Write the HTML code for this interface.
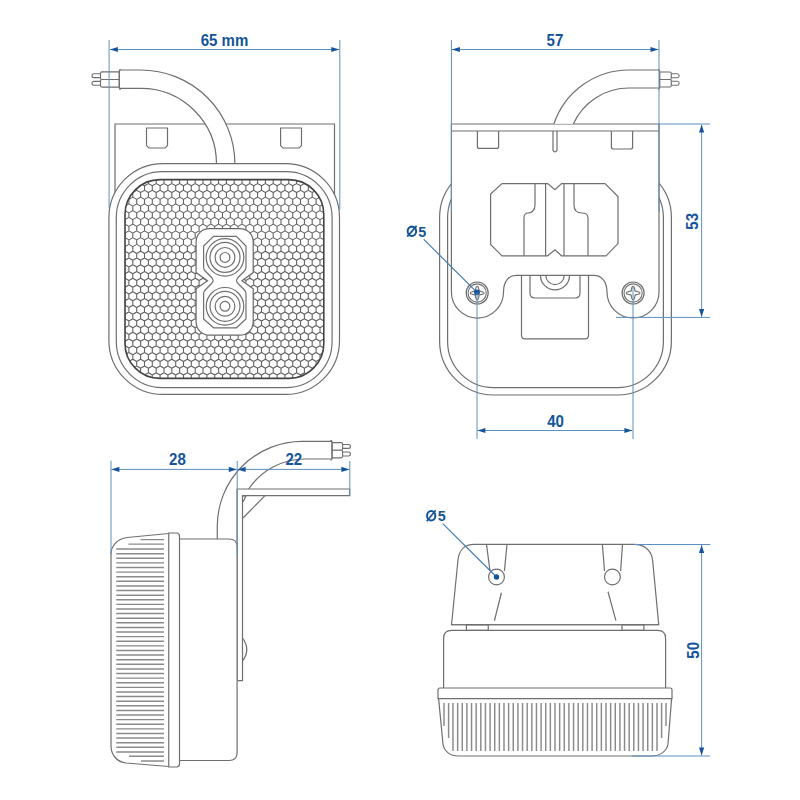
<!DOCTYPE html>
<html><head><meta charset="utf-8"><style>
html,body{margin:0;padding:0;background:#fff;width:800px;height:800px;overflow:hidden;font-family:"Liberation Sans",sans-serif;}
svg{display:block;}
</style></head><body>
<svg width="800" height="800" viewBox="0 0 800 800">
<defs>
<clipPath id="lensclip"><rect x="125" y="179.6" width="198.8" height="198.8" rx="35"/></clipPath>
</defs>
<rect width="800" height="800" fill="#fff"/>
<g fill="none" stroke="#6f6f6f" stroke-width="1.20">
<path d="M115,205 V124 H334.5 V205" fill="#fff"/>
<path d="M146.5,128 V145.6 L148.9,148 H165.1 L167.5,145.6 V128 Z"/>
<path d="M280.6,128 V145.6 L283,148 H299.1 L301.5,145.6 V128 Z"/>
<path d="M119.5,70 H140.9 A94,94 0 0 1 234.9,164 V166 H216.5 V164 A75.6,75.6 0 0 0 140.9,88.4 H119.5 Z" fill="#fff" stroke="none"/>
<path d="M119.5,70 H140.9 A94,94 0 0 1 234.9,164 V166"/>
<path d="M119.5,88.4 H140.9 A75.6,75.6 0 0 1 216.5,164 V166"/>
</g>
<path d="M100.50,73.75 H93.95 A1.95,1.95 0 0 0 93.95,77.65 H100.50" fill="#fff" stroke="#6f6f6f" stroke-width="1.1"/>
<path d="M119.30,71.90 H102.00 Q100.50,71.90 100.50,73.40 V78.00 Q100.50,79.50 102.00,79.50 H119.30 Z" fill="#fff" stroke="#6f6f6f" stroke-width="1.15"/>
<path d="M100.50,81.35 H93.95 A1.95,1.95 0 0 0 93.95,85.25 H100.50" fill="#fff" stroke="#6f6f6f" stroke-width="1.1"/>
<path d="M119.30,79.50 H102.00 Q100.50,79.50 100.50,81.00 V85.60 Q100.50,87.10 102.00,87.10 H119.30 Z" fill="#fff" stroke="#6f6f6f" stroke-width="1.15"/>
<path d="M120.80,69.60 Q119.30,69.60 119.30,71.10 V87.90 Q119.30,89.40 120.80,89.40" fill="none" stroke="#6f6f6f" stroke-width="1.2"/>
<g fill="none" stroke="#6f6f6f" stroke-width="1.20">
<rect x="108.9" y="163.6" width="230.6" height="230.8" rx="54" fill="#fff"/>
<rect x="116.3" y="171.6" width="215.8" height="216" rx="46"/>
<path d="M113.30,172.34 L117.20,170.09 L121.10,172.34 M113.30,172.34 V176.84 M121.10,172.34 L125.00,170.09 L128.90,172.34 M121.10,172.34 V176.84 M128.90,172.34 L132.80,170.09 L136.70,172.34 M128.90,172.34 V176.84 M136.70,172.34 L140.60,170.09 L144.50,172.34 M136.70,172.34 V176.84 M144.50,172.34 L148.40,170.09 L152.30,172.34 M144.50,172.34 V176.84 M152.30,172.34 L156.20,170.09 L160.10,172.34 M152.30,172.34 V176.84 M160.10,172.34 L164.00,170.09 L167.90,172.34 M160.10,172.34 V176.84 M167.90,172.34 L171.80,170.09 L175.70,172.34 M167.90,172.34 V176.84 M175.70,172.34 L179.60,170.09 L183.50,172.34 M175.70,172.34 V176.84 M183.50,172.34 L187.40,170.09 L191.30,172.34 M183.50,172.34 V176.84 M191.30,172.34 L195.20,170.09 L199.10,172.34 M191.30,172.34 V176.84 M199.10,172.34 L203.00,170.09 L206.90,172.34 M199.10,172.34 V176.84 M206.90,172.34 L210.80,170.09 L214.70,172.34 M206.90,172.34 V176.84 M214.70,172.34 L218.60,170.09 L222.50,172.34 M214.70,172.34 V176.84 M222.50,172.34 L226.40,170.09 L230.30,172.34 M222.50,172.34 V176.84 M230.30,172.34 L234.20,170.09 L238.10,172.34 M230.30,172.34 V176.84 M238.10,172.34 L242.00,170.09 L245.90,172.34 M238.10,172.34 V176.84 M245.90,172.34 L249.80,170.09 L253.70,172.34 M245.90,172.34 V176.84 M253.70,172.34 L257.60,170.09 L261.50,172.34 M253.70,172.34 V176.84 M261.50,172.34 L265.40,170.09 L269.30,172.34 M261.50,172.34 V176.84 M269.30,172.34 L273.20,170.09 L277.10,172.34 M269.30,172.34 V176.84 M277.10,172.34 L281.00,170.09 L284.90,172.34 M277.10,172.34 V176.84 M284.90,172.34 L288.80,170.09 L292.70,172.34 M284.90,172.34 V176.84 M292.70,172.34 L296.60,170.09 L300.50,172.34 M292.70,172.34 V176.84 M300.50,172.34 L304.40,170.09 L308.30,172.34 M300.50,172.34 V176.84 M308.30,172.34 L312.20,170.09 L316.10,172.34 M308.30,172.34 V176.84 M316.10,172.34 L320.00,170.09 L323.90,172.34 M316.10,172.34 V176.84 M323.90,172.34 L327.80,170.09 L331.70,172.34 M323.90,172.34 V176.84 M117.20,179.09 L121.10,176.84 L125.00,179.09 M117.20,179.09 V183.60 M125.00,179.09 L128.90,176.84 L132.80,179.09 M125.00,179.09 V183.60 M132.80,179.09 L136.70,176.84 L140.60,179.09 M132.80,179.09 V183.60 M140.60,179.09 L144.50,176.84 L148.40,179.09 M140.60,179.09 V183.60 M148.40,179.09 L152.30,176.84 L156.20,179.09 M148.40,179.09 V183.60 M156.20,179.09 L160.10,176.84 L164.00,179.09 M156.20,179.09 V183.60 M164.00,179.09 L167.90,176.84 L171.80,179.09 M164.00,179.09 V183.60 M171.80,179.09 L175.70,176.84 L179.60,179.09 M171.80,179.09 V183.60 M179.60,179.09 L183.50,176.84 L187.40,179.09 M179.60,179.09 V183.60 M187.40,179.09 L191.30,176.84 L195.20,179.09 M187.40,179.09 V183.60 M195.20,179.09 L199.10,176.84 L203.00,179.09 M195.20,179.09 V183.60 M203.00,179.09 L206.90,176.84 L210.80,179.09 M203.00,179.09 V183.60 M210.80,179.09 L214.70,176.84 L218.60,179.09 M210.80,179.09 V183.60 M218.60,179.09 L222.50,176.84 L226.40,179.09 M218.60,179.09 V183.60 M226.40,179.09 L230.30,176.84 L234.20,179.09 M226.40,179.09 V183.60 M234.20,179.09 L238.10,176.84 L242.00,179.09 M234.20,179.09 V183.60 M242.00,179.09 L245.90,176.84 L249.80,179.09 M242.00,179.09 V183.60 M249.80,179.09 L253.70,176.84 L257.60,179.09 M249.80,179.09 V183.60 M257.60,179.09 L261.50,176.84 L265.40,179.09 M257.60,179.09 V183.60 M265.40,179.09 L269.30,176.84 L273.20,179.09 M265.40,179.09 V183.60 M273.20,179.09 L277.10,176.84 L281.00,179.09 M273.20,179.09 V183.60 M281.00,179.09 L284.90,176.84 L288.80,179.09 M281.00,179.09 V183.60 M288.80,179.09 L292.70,176.84 L296.60,179.09 M288.80,179.09 V183.60 M296.60,179.09 L300.50,176.84 L304.40,179.09 M296.60,179.09 V183.60 M304.40,179.09 L308.30,176.84 L312.20,179.09 M304.40,179.09 V183.60 M312.20,179.09 L316.10,176.84 L320.00,179.09 M312.20,179.09 V183.60 M320.00,179.09 L323.90,176.84 L327.80,179.09 M320.00,179.09 V183.60 M327.80,179.09 L331.70,176.84 L335.60,179.09 M327.80,179.09 V183.60 M113.30,185.85 L117.20,183.60 L121.10,185.85 M113.30,185.85 V190.35 M121.10,185.85 L125.00,183.60 L128.90,185.85 M121.10,185.85 V190.35 M128.90,185.85 L132.80,183.60 L136.70,185.85 M128.90,185.85 V190.35 M136.70,185.85 L140.60,183.60 L144.50,185.85 M136.70,185.85 V190.35 M144.50,185.85 L148.40,183.60 L152.30,185.85 M144.50,185.85 V190.35 M152.30,185.85 L156.20,183.60 L160.10,185.85 M152.30,185.85 V190.35 M160.10,185.85 L164.00,183.60 L167.90,185.85 M160.10,185.85 V190.35 M167.90,185.85 L171.80,183.60 L175.70,185.85 M167.90,185.85 V190.35 M175.70,185.85 L179.60,183.60 L183.50,185.85 M175.70,185.85 V190.35 M183.50,185.85 L187.40,183.60 L191.30,185.85 M183.50,185.85 V190.35 M191.30,185.85 L195.20,183.60 L199.10,185.85 M191.30,185.85 V190.35 M199.10,185.85 L203.00,183.60 L206.90,185.85 M199.10,185.85 V190.35 M206.90,185.85 L210.80,183.60 L214.70,185.85 M206.90,185.85 V190.35 M214.70,185.85 L218.60,183.60 L222.50,185.85 M214.70,185.85 V190.35 M222.50,185.85 L226.40,183.60 L230.30,185.85 M222.50,185.85 V190.35 M230.30,185.85 L234.20,183.60 L238.10,185.85 M230.30,185.85 V190.35 M238.10,185.85 L242.00,183.60 L245.90,185.85 M238.10,185.85 V190.35 M245.90,185.85 L249.80,183.60 L253.70,185.85 M245.90,185.85 V190.35 M253.70,185.85 L257.60,183.60 L261.50,185.85 M253.70,185.85 V190.35 M261.50,185.85 L265.40,183.60 L269.30,185.85 M261.50,185.85 V190.35 M269.30,185.85 L273.20,183.60 L277.10,185.85 M269.30,185.85 V190.35 M277.10,185.85 L281.00,183.60 L284.90,185.85 M277.10,185.85 V190.35 M284.90,185.85 L288.80,183.60 L292.70,185.85 M284.90,185.85 V190.35 M292.70,185.85 L296.60,183.60 L300.50,185.85 M292.70,185.85 V190.35 M300.50,185.85 L304.40,183.60 L308.30,185.85 M300.50,185.85 V190.35 M308.30,185.85 L312.20,183.60 L316.10,185.85 M308.30,185.85 V190.35 M316.10,185.85 L320.00,183.60 L323.90,185.85 M316.10,185.85 V190.35 M323.90,185.85 L327.80,183.60 L331.70,185.85 M323.90,185.85 V190.35 M117.20,192.60 L121.10,190.35 L125.00,192.60 M117.20,192.60 V197.11 M125.00,192.60 L128.90,190.35 L132.80,192.60 M125.00,192.60 V197.11 M132.80,192.60 L136.70,190.35 L140.60,192.60 M132.80,192.60 V197.11 M140.60,192.60 L144.50,190.35 L148.40,192.60 M140.60,192.60 V197.11 M148.40,192.60 L152.30,190.35 L156.20,192.60 M148.40,192.60 V197.11 M156.20,192.60 L160.10,190.35 L164.00,192.60 M156.20,192.60 V197.11 M164.00,192.60 L167.90,190.35 L171.80,192.60 M164.00,192.60 V197.11 M171.80,192.60 L175.70,190.35 L179.60,192.60 M171.80,192.60 V197.11 M179.60,192.60 L183.50,190.35 L187.40,192.60 M179.60,192.60 V197.11 M187.40,192.60 L191.30,190.35 L195.20,192.60 M187.40,192.60 V197.11 M195.20,192.60 L199.10,190.35 L203.00,192.60 M195.20,192.60 V197.11 M203.00,192.60 L206.90,190.35 L210.80,192.60 M203.00,192.60 V197.11 M210.80,192.60 L214.70,190.35 L218.60,192.60 M210.80,192.60 V197.11 M218.60,192.60 L222.50,190.35 L226.40,192.60 M218.60,192.60 V197.11 M226.40,192.60 L230.30,190.35 L234.20,192.60 M226.40,192.60 V197.11 M234.20,192.60 L238.10,190.35 L242.00,192.60 M234.20,192.60 V197.11 M242.00,192.60 L245.90,190.35 L249.80,192.60 M242.00,192.60 V197.11 M249.80,192.60 L253.70,190.35 L257.60,192.60 M249.80,192.60 V197.11 M257.60,192.60 L261.50,190.35 L265.40,192.60 M257.60,192.60 V197.11 M265.40,192.60 L269.30,190.35 L273.20,192.60 M265.40,192.60 V197.11 M273.20,192.60 L277.10,190.35 L281.00,192.60 M273.20,192.60 V197.11 M281.00,192.60 L284.90,190.35 L288.80,192.60 M281.00,192.60 V197.11 M288.80,192.60 L292.70,190.35 L296.60,192.60 M288.80,192.60 V197.11 M296.60,192.60 L300.50,190.35 L304.40,192.60 M296.60,192.60 V197.11 M304.40,192.60 L308.30,190.35 L312.20,192.60 M304.40,192.60 V197.11 M312.20,192.60 L316.10,190.35 L320.00,192.60 M312.20,192.60 V197.11 M320.00,192.60 L323.90,190.35 L327.80,192.60 M320.00,192.60 V197.11 M327.80,192.60 L331.70,190.35 L335.60,192.60 M327.80,192.60 V197.11 M113.30,199.36 L117.20,197.11 L121.10,199.36 M113.30,199.36 V203.86 M121.10,199.36 L125.00,197.11 L128.90,199.36 M121.10,199.36 V203.86 M128.90,199.36 L132.80,197.11 L136.70,199.36 M128.90,199.36 V203.86 M136.70,199.36 L140.60,197.11 L144.50,199.36 M136.70,199.36 V203.86 M144.50,199.36 L148.40,197.11 L152.30,199.36 M144.50,199.36 V203.86 M152.30,199.36 L156.20,197.11 L160.10,199.36 M152.30,199.36 V203.86 M160.10,199.36 L164.00,197.11 L167.90,199.36 M160.10,199.36 V203.86 M167.90,199.36 L171.80,197.11 L175.70,199.36 M167.90,199.36 V203.86 M175.70,199.36 L179.60,197.11 L183.50,199.36 M175.70,199.36 V203.86 M183.50,199.36 L187.40,197.11 L191.30,199.36 M183.50,199.36 V203.86 M191.30,199.36 L195.20,197.11 L199.10,199.36 M191.30,199.36 V203.86 M199.10,199.36 L203.00,197.11 L206.90,199.36 M199.10,199.36 V203.86 M206.90,199.36 L210.80,197.11 L214.70,199.36 M206.90,199.36 V203.86 M214.70,199.36 L218.60,197.11 L222.50,199.36 M214.70,199.36 V203.86 M222.50,199.36 L226.40,197.11 L230.30,199.36 M222.50,199.36 V203.86 M230.30,199.36 L234.20,197.11 L238.10,199.36 M230.30,199.36 V203.86 M238.10,199.36 L242.00,197.11 L245.90,199.36 M238.10,199.36 V203.86 M245.90,199.36 L249.80,197.11 L253.70,199.36 M245.90,199.36 V203.86 M253.70,199.36 L257.60,197.11 L261.50,199.36 M253.70,199.36 V203.86 M261.50,199.36 L265.40,197.11 L269.30,199.36 M261.50,199.36 V203.86 M269.30,199.36 L273.20,197.11 L277.10,199.36 M269.30,199.36 V203.86 M277.10,199.36 L281.00,197.11 L284.90,199.36 M277.10,199.36 V203.86 M284.90,199.36 L288.80,197.11 L292.70,199.36 M284.90,199.36 V203.86 M292.70,199.36 L296.60,197.11 L300.50,199.36 M292.70,199.36 V203.86 M300.50,199.36 L304.40,197.11 L308.30,199.36 M300.50,199.36 V203.86 M308.30,199.36 L312.20,197.11 L316.10,199.36 M308.30,199.36 V203.86 M316.10,199.36 L320.00,197.11 L323.90,199.36 M316.10,199.36 V203.86 M323.90,199.36 L327.80,197.11 L331.70,199.36 M323.90,199.36 V203.86 M117.20,206.11 L121.10,203.86 L125.00,206.11 M117.20,206.11 V210.62 M125.00,206.11 L128.90,203.86 L132.80,206.11 M125.00,206.11 V210.62 M132.80,206.11 L136.70,203.86 L140.60,206.11 M132.80,206.11 V210.62 M140.60,206.11 L144.50,203.86 L148.40,206.11 M140.60,206.11 V210.62 M148.40,206.11 L152.30,203.86 L156.20,206.11 M148.40,206.11 V210.62 M156.20,206.11 L160.10,203.86 L164.00,206.11 M156.20,206.11 V210.62 M164.00,206.11 L167.90,203.86 L171.80,206.11 M164.00,206.11 V210.62 M171.80,206.11 L175.70,203.86 L179.60,206.11 M171.80,206.11 V210.62 M179.60,206.11 L183.50,203.86 L187.40,206.11 M179.60,206.11 V210.62 M187.40,206.11 L191.30,203.86 L195.20,206.11 M187.40,206.11 V210.62 M195.20,206.11 L199.10,203.86 L203.00,206.11 M195.20,206.11 V210.62 M203.00,206.11 L206.90,203.86 L210.80,206.11 M203.00,206.11 V210.62 M210.80,206.11 L214.70,203.86 L218.60,206.11 M210.80,206.11 V210.62 M218.60,206.11 L222.50,203.86 L226.40,206.11 M218.60,206.11 V210.62 M226.40,206.11 L230.30,203.86 L234.20,206.11 M226.40,206.11 V210.62 M234.20,206.11 L238.10,203.86 L242.00,206.11 M234.20,206.11 V210.62 M242.00,206.11 L245.90,203.86 L249.80,206.11 M242.00,206.11 V210.62 M249.80,206.11 L253.70,203.86 L257.60,206.11 M249.80,206.11 V210.62 M257.60,206.11 L261.50,203.86 L265.40,206.11 M257.60,206.11 V210.62 M265.40,206.11 L269.30,203.86 L273.20,206.11 M265.40,206.11 V210.62 M273.20,206.11 L277.10,203.86 L281.00,206.11 M273.20,206.11 V210.62 M281.00,206.11 L284.90,203.86 L288.80,206.11 M281.00,206.11 V210.62 M288.80,206.11 L292.70,203.86 L296.60,206.11 M288.80,206.11 V210.62 M296.60,206.11 L300.50,203.86 L304.40,206.11 M296.60,206.11 V210.62 M304.40,206.11 L308.30,203.86 L312.20,206.11 M304.40,206.11 V210.62 M312.20,206.11 L316.10,203.86 L320.00,206.11 M312.20,206.11 V210.62 M320.00,206.11 L323.90,203.86 L327.80,206.11 M320.00,206.11 V210.62 M327.80,206.11 L331.70,203.86 L335.60,206.11 M327.80,206.11 V210.62 M113.30,212.87 L117.20,210.62 L121.10,212.87 M113.30,212.87 V217.37 M121.10,212.87 L125.00,210.62 L128.90,212.87 M121.10,212.87 V217.37 M128.90,212.87 L132.80,210.62 L136.70,212.87 M128.90,212.87 V217.37 M136.70,212.87 L140.60,210.62 L144.50,212.87 M136.70,212.87 V217.37 M144.50,212.87 L148.40,210.62 L152.30,212.87 M144.50,212.87 V217.37 M152.30,212.87 L156.20,210.62 L160.10,212.87 M152.30,212.87 V217.37 M160.10,212.87 L164.00,210.62 L167.90,212.87 M160.10,212.87 V217.37 M167.90,212.87 L171.80,210.62 L175.70,212.87 M167.90,212.87 V217.37 M175.70,212.87 L179.60,210.62 L183.50,212.87 M175.70,212.87 V217.37 M183.50,212.87 L187.40,210.62 L191.30,212.87 M183.50,212.87 V217.37 M191.30,212.87 L195.20,210.62 L199.10,212.87 M191.30,212.87 V217.37 M199.10,212.87 L203.00,210.62 L206.90,212.87 M199.10,212.87 V217.37 M206.90,212.87 L210.80,210.62 L214.70,212.87 M206.90,212.87 V217.37 M214.70,212.87 L218.60,210.62 L222.50,212.87 M214.70,212.87 V217.37 M222.50,212.87 L226.40,210.62 L230.30,212.87 M222.50,212.87 V217.37 M230.30,212.87 L234.20,210.62 L238.10,212.87 M230.30,212.87 V217.37 M238.10,212.87 L242.00,210.62 L245.90,212.87 M238.10,212.87 V217.37 M245.90,212.87 L249.80,210.62 L253.70,212.87 M245.90,212.87 V217.37 M253.70,212.87 L257.60,210.62 L261.50,212.87 M253.70,212.87 V217.37 M261.50,212.87 L265.40,210.62 L269.30,212.87 M261.50,212.87 V217.37 M269.30,212.87 L273.20,210.62 L277.10,212.87 M269.30,212.87 V217.37 M277.10,212.87 L281.00,210.62 L284.90,212.87 M277.10,212.87 V217.37 M284.90,212.87 L288.80,210.62 L292.70,212.87 M284.90,212.87 V217.37 M292.70,212.87 L296.60,210.62 L300.50,212.87 M292.70,212.87 V217.37 M300.50,212.87 L304.40,210.62 L308.30,212.87 M300.50,212.87 V217.37 M308.30,212.87 L312.20,210.62 L316.10,212.87 M308.30,212.87 V217.37 M316.10,212.87 L320.00,210.62 L323.90,212.87 M316.10,212.87 V217.37 M323.90,212.87 L327.80,210.62 L331.70,212.87 M323.90,212.87 V217.37 M117.20,219.62 L121.10,217.37 L125.00,219.62 M117.20,219.62 V224.13 M125.00,219.62 L128.90,217.37 L132.80,219.62 M125.00,219.62 V224.13 M132.80,219.62 L136.70,217.37 L140.60,219.62 M132.80,219.62 V224.13 M140.60,219.62 L144.50,217.37 L148.40,219.62 M140.60,219.62 V224.13 M148.40,219.62 L152.30,217.37 L156.20,219.62 M148.40,219.62 V224.13 M156.20,219.62 L160.10,217.37 L164.00,219.62 M156.20,219.62 V224.13 M164.00,219.62 L167.90,217.37 L171.80,219.62 M164.00,219.62 V224.13 M171.80,219.62 L175.70,217.37 L179.60,219.62 M171.80,219.62 V224.13 M179.60,219.62 L183.50,217.37 L187.40,219.62 M179.60,219.62 V224.13 M187.40,219.62 L191.30,217.37 L195.20,219.62 M187.40,219.62 V224.13 M195.20,219.62 L199.10,217.37 L203.00,219.62 M195.20,219.62 V224.13 M203.00,219.62 L206.90,217.37 L210.80,219.62 M203.00,219.62 V224.13 M210.80,219.62 L214.70,217.37 L218.60,219.62 M210.80,219.62 V224.13 M218.60,219.62 L222.50,217.37 L226.40,219.62 M218.60,219.62 V224.13 M226.40,219.62 L230.30,217.37 L234.20,219.62 M226.40,219.62 V224.13 M234.20,219.62 L238.10,217.37 L242.00,219.62 M234.20,219.62 V224.13 M242.00,219.62 L245.90,217.37 L249.80,219.62 M242.00,219.62 V224.13 M249.80,219.62 L253.70,217.37 L257.60,219.62 M249.80,219.62 V224.13 M257.60,219.62 L261.50,217.37 L265.40,219.62 M257.60,219.62 V224.13 M265.40,219.62 L269.30,217.37 L273.20,219.62 M265.40,219.62 V224.13 M273.20,219.62 L277.10,217.37 L281.00,219.62 M273.20,219.62 V224.13 M281.00,219.62 L284.90,217.37 L288.80,219.62 M281.00,219.62 V224.13 M288.80,219.62 L292.70,217.37 L296.60,219.62 M288.80,219.62 V224.13 M296.60,219.62 L300.50,217.37 L304.40,219.62 M296.60,219.62 V224.13 M304.40,219.62 L308.30,217.37 L312.20,219.62 M304.40,219.62 V224.13 M312.20,219.62 L316.10,217.37 L320.00,219.62 M312.20,219.62 V224.13 M320.00,219.62 L323.90,217.37 L327.80,219.62 M320.00,219.62 V224.13 M327.80,219.62 L331.70,217.37 L335.60,219.62 M327.80,219.62 V224.13 M113.30,226.38 L117.20,224.13 L121.10,226.38 M113.30,226.38 V230.88 M121.10,226.38 L125.00,224.13 L128.90,226.38 M121.10,226.38 V230.88 M128.90,226.38 L132.80,224.13 L136.70,226.38 M128.90,226.38 V230.88 M136.70,226.38 L140.60,224.13 L144.50,226.38 M136.70,226.38 V230.88 M144.50,226.38 L148.40,224.13 L152.30,226.38 M144.50,226.38 V230.88 M152.30,226.38 L156.20,224.13 L160.10,226.38 M152.30,226.38 V230.88 M160.10,226.38 L164.00,224.13 L167.90,226.38 M160.10,226.38 V230.88 M167.90,226.38 L171.80,224.13 L175.70,226.38 M167.90,226.38 V230.88 M175.70,226.38 L179.60,224.13 L183.50,226.38 M175.70,226.38 V230.88 M183.50,226.38 L187.40,224.13 L191.30,226.38 M183.50,226.38 V230.88 M191.30,226.38 L195.20,224.13 L199.10,226.38 M191.30,226.38 V230.88 M199.10,226.38 L203.00,224.13 L206.90,226.38 M199.10,226.38 V230.88 M206.90,226.38 L210.80,224.13 L214.70,226.38 M206.90,226.38 V230.88 M214.70,226.38 L218.60,224.13 L222.50,226.38 M214.70,226.38 V230.88 M222.50,226.38 L226.40,224.13 L230.30,226.38 M222.50,226.38 V230.88 M230.30,226.38 L234.20,224.13 L238.10,226.38 M230.30,226.38 V230.88 M238.10,226.38 L242.00,224.13 L245.90,226.38 M238.10,226.38 V230.88 M245.90,226.38 L249.80,224.13 L253.70,226.38 M245.90,226.38 V230.88 M253.70,226.38 L257.60,224.13 L261.50,226.38 M253.70,226.38 V230.88 M261.50,226.38 L265.40,224.13 L269.30,226.38 M261.50,226.38 V230.88 M269.30,226.38 L273.20,224.13 L277.10,226.38 M269.30,226.38 V230.88 M277.10,226.38 L281.00,224.13 L284.90,226.38 M277.10,226.38 V230.88 M284.90,226.38 L288.80,224.13 L292.70,226.38 M284.90,226.38 V230.88 M292.70,226.38 L296.60,224.13 L300.50,226.38 M292.70,226.38 V230.88 M300.50,226.38 L304.40,224.13 L308.30,226.38 M300.50,226.38 V230.88 M308.30,226.38 L312.20,224.13 L316.10,226.38 M308.30,226.38 V230.88 M316.10,226.38 L320.00,224.13 L323.90,226.38 M316.10,226.38 V230.88 M323.90,226.38 L327.80,224.13 L331.70,226.38 M323.90,226.38 V230.88 M117.20,233.13 L121.10,230.88 L125.00,233.13 M117.20,233.13 V237.64 M125.00,233.13 L128.90,230.88 L132.80,233.13 M125.00,233.13 V237.64 M132.80,233.13 L136.70,230.88 L140.60,233.13 M132.80,233.13 V237.64 M140.60,233.13 L144.50,230.88 L148.40,233.13 M140.60,233.13 V237.64 M148.40,233.13 L152.30,230.88 L156.20,233.13 M148.40,233.13 V237.64 M156.20,233.13 L160.10,230.88 L164.00,233.13 M156.20,233.13 V237.64 M164.00,233.13 L167.90,230.88 L171.80,233.13 M164.00,233.13 V237.64 M171.80,233.13 L175.70,230.88 L179.60,233.13 M171.80,233.13 V237.64 M179.60,233.13 L183.50,230.88 L187.40,233.13 M179.60,233.13 V237.64 M187.40,233.13 L191.30,230.88 L195.20,233.13 M187.40,233.13 V237.64 M195.20,233.13 L199.10,230.88 L203.00,233.13 M195.20,233.13 V237.64 M203.00,233.13 L206.90,230.88 L210.80,233.13 M203.00,233.13 V237.64 M210.80,233.13 L214.70,230.88 L218.60,233.13 M210.80,233.13 V237.64 M218.60,233.13 L222.50,230.88 L226.40,233.13 M218.60,233.13 V237.64 M226.40,233.13 L230.30,230.88 L234.20,233.13 M226.40,233.13 V237.64 M234.20,233.13 L238.10,230.88 L242.00,233.13 M234.20,233.13 V237.64 M242.00,233.13 L245.90,230.88 L249.80,233.13 M242.00,233.13 V237.64 M249.80,233.13 L253.70,230.88 L257.60,233.13 M249.80,233.13 V237.64 M257.60,233.13 L261.50,230.88 L265.40,233.13 M257.60,233.13 V237.64 M265.40,233.13 L269.30,230.88 L273.20,233.13 M265.40,233.13 V237.64 M273.20,233.13 L277.10,230.88 L281.00,233.13 M273.20,233.13 V237.64 M281.00,233.13 L284.90,230.88 L288.80,233.13 M281.00,233.13 V237.64 M288.80,233.13 L292.70,230.88 L296.60,233.13 M288.80,233.13 V237.64 M296.60,233.13 L300.50,230.88 L304.40,233.13 M296.60,233.13 V237.64 M304.40,233.13 L308.30,230.88 L312.20,233.13 M304.40,233.13 V237.64 M312.20,233.13 L316.10,230.88 L320.00,233.13 M312.20,233.13 V237.64 M320.00,233.13 L323.90,230.88 L327.80,233.13 M320.00,233.13 V237.64 M327.80,233.13 L331.70,230.88 L335.60,233.13 M327.80,233.13 V237.64 M113.30,239.89 L117.20,237.64 L121.10,239.89 M113.30,239.89 V244.39 M121.10,239.89 L125.00,237.64 L128.90,239.89 M121.10,239.89 V244.39 M128.90,239.89 L132.80,237.64 L136.70,239.89 M128.90,239.89 V244.39 M136.70,239.89 L140.60,237.64 L144.50,239.89 M136.70,239.89 V244.39 M144.50,239.89 L148.40,237.64 L152.30,239.89 M144.50,239.89 V244.39 M152.30,239.89 L156.20,237.64 L160.10,239.89 M152.30,239.89 V244.39 M160.10,239.89 L164.00,237.64 L167.90,239.89 M160.10,239.89 V244.39 M167.90,239.89 L171.80,237.64 L175.70,239.89 M167.90,239.89 V244.39 M175.70,239.89 L179.60,237.64 L183.50,239.89 M175.70,239.89 V244.39 M183.50,239.89 L187.40,237.64 L191.30,239.89 M183.50,239.89 V244.39 M191.30,239.89 L195.20,237.64 L199.10,239.89 M191.30,239.89 V244.39 M199.10,239.89 L203.00,237.64 L206.90,239.89 M199.10,239.89 V244.39 M206.90,239.89 L210.80,237.64 L214.70,239.89 M206.90,239.89 V244.39 M214.70,239.89 L218.60,237.64 L222.50,239.89 M214.70,239.89 V244.39 M222.50,239.89 L226.40,237.64 L230.30,239.89 M222.50,239.89 V244.39 M230.30,239.89 L234.20,237.64 L238.10,239.89 M230.30,239.89 V244.39 M238.10,239.89 L242.00,237.64 L245.90,239.89 M238.10,239.89 V244.39 M245.90,239.89 L249.80,237.64 L253.70,239.89 M245.90,239.89 V244.39 M253.70,239.89 L257.60,237.64 L261.50,239.89 M253.70,239.89 V244.39 M261.50,239.89 L265.40,237.64 L269.30,239.89 M261.50,239.89 V244.39 M269.30,239.89 L273.20,237.64 L277.10,239.89 M269.30,239.89 V244.39 M277.10,239.89 L281.00,237.64 L284.90,239.89 M277.10,239.89 V244.39 M284.90,239.89 L288.80,237.64 L292.70,239.89 M284.90,239.89 V244.39 M292.70,239.89 L296.60,237.64 L300.50,239.89 M292.70,239.89 V244.39 M300.50,239.89 L304.40,237.64 L308.30,239.89 M300.50,239.89 V244.39 M308.30,239.89 L312.20,237.64 L316.10,239.89 M308.30,239.89 V244.39 M316.10,239.89 L320.00,237.64 L323.90,239.89 M316.10,239.89 V244.39 M323.90,239.89 L327.80,237.64 L331.70,239.89 M323.90,239.89 V244.39 M117.20,246.64 L121.10,244.39 L125.00,246.64 M117.20,246.64 V251.15 M125.00,246.64 L128.90,244.39 L132.80,246.64 M125.00,246.64 V251.15 M132.80,246.64 L136.70,244.39 L140.60,246.64 M132.80,246.64 V251.15 M140.60,246.64 L144.50,244.39 L148.40,246.64 M140.60,246.64 V251.15 M148.40,246.64 L152.30,244.39 L156.20,246.64 M148.40,246.64 V251.15 M156.20,246.64 L160.10,244.39 L164.00,246.64 M156.20,246.64 V251.15 M164.00,246.64 L167.90,244.39 L171.80,246.64 M164.00,246.64 V251.15 M171.80,246.64 L175.70,244.39 L179.60,246.64 M171.80,246.64 V251.15 M179.60,246.64 L183.50,244.39 L187.40,246.64 M179.60,246.64 V251.15 M187.40,246.64 L191.30,244.39 L195.20,246.64 M187.40,246.64 V251.15 M195.20,246.64 L199.10,244.39 L203.00,246.64 M195.20,246.64 V251.15 M203.00,246.64 L206.90,244.39 L210.80,246.64 M203.00,246.64 V251.15 M210.80,246.64 L214.70,244.39 L218.60,246.64 M210.80,246.64 V251.15 M218.60,246.64 L222.50,244.39 L226.40,246.64 M218.60,246.64 V251.15 M226.40,246.64 L230.30,244.39 L234.20,246.64 M226.40,246.64 V251.15 M234.20,246.64 L238.10,244.39 L242.00,246.64 M234.20,246.64 V251.15 M242.00,246.64 L245.90,244.39 L249.80,246.64 M242.00,246.64 V251.15 M249.80,246.64 L253.70,244.39 L257.60,246.64 M249.80,246.64 V251.15 M257.60,246.64 L261.50,244.39 L265.40,246.64 M257.60,246.64 V251.15 M265.40,246.64 L269.30,244.39 L273.20,246.64 M265.40,246.64 V251.15 M273.20,246.64 L277.10,244.39 L281.00,246.64 M273.20,246.64 V251.15 M281.00,246.64 L284.90,244.39 L288.80,246.64 M281.00,246.64 V251.15 M288.80,246.64 L292.70,244.39 L296.60,246.64 M288.80,246.64 V251.15 M296.60,246.64 L300.50,244.39 L304.40,246.64 M296.60,246.64 V251.15 M304.40,246.64 L308.30,244.39 L312.20,246.64 M304.40,246.64 V251.15 M312.20,246.64 L316.10,244.39 L320.00,246.64 M312.20,246.64 V251.15 M320.00,246.64 L323.90,244.39 L327.80,246.64 M320.00,246.64 V251.15 M327.80,246.64 L331.70,244.39 L335.60,246.64 M327.80,246.64 V251.15 M113.30,253.40 L117.20,251.15 L121.10,253.40 M113.30,253.40 V257.90 M121.10,253.40 L125.00,251.15 L128.90,253.40 M121.10,253.40 V257.90 M128.90,253.40 L132.80,251.15 L136.70,253.40 M128.90,253.40 V257.90 M136.70,253.40 L140.60,251.15 L144.50,253.40 M136.70,253.40 V257.90 M144.50,253.40 L148.40,251.15 L152.30,253.40 M144.50,253.40 V257.90 M152.30,253.40 L156.20,251.15 L160.10,253.40 M152.30,253.40 V257.90 M160.10,253.40 L164.00,251.15 L167.90,253.40 M160.10,253.40 V257.90 M167.90,253.40 L171.80,251.15 L175.70,253.40 M167.90,253.40 V257.90 M175.70,253.40 L179.60,251.15 L183.50,253.40 M175.70,253.40 V257.90 M183.50,253.40 L187.40,251.15 L191.30,253.40 M183.50,253.40 V257.90 M191.30,253.40 L195.20,251.15 L199.10,253.40 M191.30,253.40 V257.90 M199.10,253.40 L203.00,251.15 L206.90,253.40 M199.10,253.40 V257.90 M206.90,253.40 L210.80,251.15 L214.70,253.40 M206.90,253.40 V257.90 M214.70,253.40 L218.60,251.15 L222.50,253.40 M214.70,253.40 V257.90 M222.50,253.40 L226.40,251.15 L230.30,253.40 M222.50,253.40 V257.90 M230.30,253.40 L234.20,251.15 L238.10,253.40 M230.30,253.40 V257.90 M238.10,253.40 L242.00,251.15 L245.90,253.40 M238.10,253.40 V257.90 M245.90,253.40 L249.80,251.15 L253.70,253.40 M245.90,253.40 V257.90 M253.70,253.40 L257.60,251.15 L261.50,253.40 M253.70,253.40 V257.90 M261.50,253.40 L265.40,251.15 L269.30,253.40 M261.50,253.40 V257.90 M269.30,253.40 L273.20,251.15 L277.10,253.40 M269.30,253.40 V257.90 M277.10,253.40 L281.00,251.15 L284.90,253.40 M277.10,253.40 V257.90 M284.90,253.40 L288.80,251.15 L292.70,253.40 M284.90,253.40 V257.90 M292.70,253.40 L296.60,251.15 L300.50,253.40 M292.70,253.40 V257.90 M300.50,253.40 L304.40,251.15 L308.30,253.40 M300.50,253.40 V257.90 M308.30,253.40 L312.20,251.15 L316.10,253.40 M308.30,253.40 V257.90 M316.10,253.40 L320.00,251.15 L323.90,253.40 M316.10,253.40 V257.90 M323.90,253.40 L327.80,251.15 L331.70,253.40 M323.90,253.40 V257.90 M117.20,260.15 L121.10,257.90 L125.00,260.15 M117.20,260.15 V264.66 M125.00,260.15 L128.90,257.90 L132.80,260.15 M125.00,260.15 V264.66 M132.80,260.15 L136.70,257.90 L140.60,260.15 M132.80,260.15 V264.66 M140.60,260.15 L144.50,257.90 L148.40,260.15 M140.60,260.15 V264.66 M148.40,260.15 L152.30,257.90 L156.20,260.15 M148.40,260.15 V264.66 M156.20,260.15 L160.10,257.90 L164.00,260.15 M156.20,260.15 V264.66 M164.00,260.15 L167.90,257.90 L171.80,260.15 M164.00,260.15 V264.66 M171.80,260.15 L175.70,257.90 L179.60,260.15 M171.80,260.15 V264.66 M179.60,260.15 L183.50,257.90 L187.40,260.15 M179.60,260.15 V264.66 M187.40,260.15 L191.30,257.90 L195.20,260.15 M187.40,260.15 V264.66 M195.20,260.15 L199.10,257.90 L203.00,260.15 M195.20,260.15 V264.66 M203.00,260.15 L206.90,257.90 L210.80,260.15 M203.00,260.15 V264.66 M210.80,260.15 L214.70,257.90 L218.60,260.15 M210.80,260.15 V264.66 M218.60,260.15 L222.50,257.90 L226.40,260.15 M218.60,260.15 V264.66 M226.40,260.15 L230.30,257.90 L234.20,260.15 M226.40,260.15 V264.66 M234.20,260.15 L238.10,257.90 L242.00,260.15 M234.20,260.15 V264.66 M242.00,260.15 L245.90,257.90 L249.80,260.15 M242.00,260.15 V264.66 M249.80,260.15 L253.70,257.90 L257.60,260.15 M249.80,260.15 V264.66 M257.60,260.15 L261.50,257.90 L265.40,260.15 M257.60,260.15 V264.66 M265.40,260.15 L269.30,257.90 L273.20,260.15 M265.40,260.15 V264.66 M273.20,260.15 L277.10,257.90 L281.00,260.15 M273.20,260.15 V264.66 M281.00,260.15 L284.90,257.90 L288.80,260.15 M281.00,260.15 V264.66 M288.80,260.15 L292.70,257.90 L296.60,260.15 M288.80,260.15 V264.66 M296.60,260.15 L300.50,257.90 L304.40,260.15 M296.60,260.15 V264.66 M304.40,260.15 L308.30,257.90 L312.20,260.15 M304.40,260.15 V264.66 M312.20,260.15 L316.10,257.90 L320.00,260.15 M312.20,260.15 V264.66 M320.00,260.15 L323.90,257.90 L327.80,260.15 M320.00,260.15 V264.66 M327.80,260.15 L331.70,257.90 L335.60,260.15 M327.80,260.15 V264.66 M113.30,266.91 L117.20,264.66 L121.10,266.91 M113.30,266.91 V271.41 M121.10,266.91 L125.00,264.66 L128.90,266.91 M121.10,266.91 V271.41 M128.90,266.91 L132.80,264.66 L136.70,266.91 M128.90,266.91 V271.41 M136.70,266.91 L140.60,264.66 L144.50,266.91 M136.70,266.91 V271.41 M144.50,266.91 L148.40,264.66 L152.30,266.91 M144.50,266.91 V271.41 M152.30,266.91 L156.20,264.66 L160.10,266.91 M152.30,266.91 V271.41 M160.10,266.91 L164.00,264.66 L167.90,266.91 M160.10,266.91 V271.41 M167.90,266.91 L171.80,264.66 L175.70,266.91 M167.90,266.91 V271.41 M175.70,266.91 L179.60,264.66 L183.50,266.91 M175.70,266.91 V271.41 M183.50,266.91 L187.40,264.66 L191.30,266.91 M183.50,266.91 V271.41 M191.30,266.91 L195.20,264.66 L199.10,266.91 M191.30,266.91 V271.41 M199.10,266.91 L203.00,264.66 L206.90,266.91 M199.10,266.91 V271.41 M206.90,266.91 L210.80,264.66 L214.70,266.91 M206.90,266.91 V271.41 M214.70,266.91 L218.60,264.66 L222.50,266.91 M214.70,266.91 V271.41 M222.50,266.91 L226.40,264.66 L230.30,266.91 M222.50,266.91 V271.41 M230.30,266.91 L234.20,264.66 L238.10,266.91 M230.30,266.91 V271.41 M238.10,266.91 L242.00,264.66 L245.90,266.91 M238.10,266.91 V271.41 M245.90,266.91 L249.80,264.66 L253.70,266.91 M245.90,266.91 V271.41 M253.70,266.91 L257.60,264.66 L261.50,266.91 M253.70,266.91 V271.41 M261.50,266.91 L265.40,264.66 L269.30,266.91 M261.50,266.91 V271.41 M269.30,266.91 L273.20,264.66 L277.10,266.91 M269.30,266.91 V271.41 M277.10,266.91 L281.00,264.66 L284.90,266.91 M277.10,266.91 V271.41 M284.90,266.91 L288.80,264.66 L292.70,266.91 M284.90,266.91 V271.41 M292.70,266.91 L296.60,264.66 L300.50,266.91 M292.70,266.91 V271.41 M300.50,266.91 L304.40,264.66 L308.30,266.91 M300.50,266.91 V271.41 M308.30,266.91 L312.20,264.66 L316.10,266.91 M308.30,266.91 V271.41 M316.10,266.91 L320.00,264.66 L323.90,266.91 M316.10,266.91 V271.41 M323.90,266.91 L327.80,264.66 L331.70,266.91 M323.90,266.91 V271.41 M117.20,273.66 L121.10,271.41 L125.00,273.66 M117.20,273.66 V278.17 M125.00,273.66 L128.90,271.41 L132.80,273.66 M125.00,273.66 V278.17 M132.80,273.66 L136.70,271.41 L140.60,273.66 M132.80,273.66 V278.17 M140.60,273.66 L144.50,271.41 L148.40,273.66 M140.60,273.66 V278.17 M148.40,273.66 L152.30,271.41 L156.20,273.66 M148.40,273.66 V278.17 M156.20,273.66 L160.10,271.41 L164.00,273.66 M156.20,273.66 V278.17 M164.00,273.66 L167.90,271.41 L171.80,273.66 M164.00,273.66 V278.17 M171.80,273.66 L175.70,271.41 L179.60,273.66 M171.80,273.66 V278.17 M179.60,273.66 L183.50,271.41 L187.40,273.66 M179.60,273.66 V278.17 M187.40,273.66 L191.30,271.41 L195.20,273.66 M187.40,273.66 V278.17 M195.20,273.66 L199.10,271.41 L203.00,273.66 M195.20,273.66 V278.17 M203.00,273.66 L206.90,271.41 L210.80,273.66 M203.00,273.66 V278.17 M210.80,273.66 L214.70,271.41 L218.60,273.66 M210.80,273.66 V278.17 M218.60,273.66 L222.50,271.41 L226.40,273.66 M218.60,273.66 V278.17 M226.40,273.66 L230.30,271.41 L234.20,273.66 M226.40,273.66 V278.17 M234.20,273.66 L238.10,271.41 L242.00,273.66 M234.20,273.66 V278.17 M242.00,273.66 L245.90,271.41 L249.80,273.66 M242.00,273.66 V278.17 M249.80,273.66 L253.70,271.41 L257.60,273.66 M249.80,273.66 V278.17 M257.60,273.66 L261.50,271.41 L265.40,273.66 M257.60,273.66 V278.17 M265.40,273.66 L269.30,271.41 L273.20,273.66 M265.40,273.66 V278.17 M273.20,273.66 L277.10,271.41 L281.00,273.66 M273.20,273.66 V278.17 M281.00,273.66 L284.90,271.41 L288.80,273.66 M281.00,273.66 V278.17 M288.80,273.66 L292.70,271.41 L296.60,273.66 M288.80,273.66 V278.17 M296.60,273.66 L300.50,271.41 L304.40,273.66 M296.60,273.66 V278.17 M304.40,273.66 L308.30,271.41 L312.20,273.66 M304.40,273.66 V278.17 M312.20,273.66 L316.10,271.41 L320.00,273.66 M312.20,273.66 V278.17 M320.00,273.66 L323.90,271.41 L327.80,273.66 M320.00,273.66 V278.17 M327.80,273.66 L331.70,271.41 L335.60,273.66 M327.80,273.66 V278.17 M113.30,280.42 L117.20,278.17 L121.10,280.42 M113.30,280.42 V284.92 M121.10,280.42 L125.00,278.17 L128.90,280.42 M121.10,280.42 V284.92 M128.90,280.42 L132.80,278.17 L136.70,280.42 M128.90,280.42 V284.92 M136.70,280.42 L140.60,278.17 L144.50,280.42 M136.70,280.42 V284.92 M144.50,280.42 L148.40,278.17 L152.30,280.42 M144.50,280.42 V284.92 M152.30,280.42 L156.20,278.17 L160.10,280.42 M152.30,280.42 V284.92 M160.10,280.42 L164.00,278.17 L167.90,280.42 M160.10,280.42 V284.92 M167.90,280.42 L171.80,278.17 L175.70,280.42 M167.90,280.42 V284.92 M175.70,280.42 L179.60,278.17 L183.50,280.42 M175.70,280.42 V284.92 M183.50,280.42 L187.40,278.17 L191.30,280.42 M183.50,280.42 V284.92 M191.30,280.42 L195.20,278.17 L199.10,280.42 M191.30,280.42 V284.92 M199.10,280.42 L203.00,278.17 L206.90,280.42 M199.10,280.42 V284.92 M206.90,280.42 L210.80,278.17 L214.70,280.42 M206.90,280.42 V284.92 M214.70,280.42 L218.60,278.17 L222.50,280.42 M214.70,280.42 V284.92 M222.50,280.42 L226.40,278.17 L230.30,280.42 M222.50,280.42 V284.92 M230.30,280.42 L234.20,278.17 L238.10,280.42 M230.30,280.42 V284.92 M238.10,280.42 L242.00,278.17 L245.90,280.42 M238.10,280.42 V284.92 M245.90,280.42 L249.80,278.17 L253.70,280.42 M245.90,280.42 V284.92 M253.70,280.42 L257.60,278.17 L261.50,280.42 M253.70,280.42 V284.92 M261.50,280.42 L265.40,278.17 L269.30,280.42 M261.50,280.42 V284.92 M269.30,280.42 L273.20,278.17 L277.10,280.42 M269.30,280.42 V284.92 M277.10,280.42 L281.00,278.17 L284.90,280.42 M277.10,280.42 V284.92 M284.90,280.42 L288.80,278.17 L292.70,280.42 M284.90,280.42 V284.92 M292.70,280.42 L296.60,278.17 L300.50,280.42 M292.70,280.42 V284.92 M300.50,280.42 L304.40,278.17 L308.30,280.42 M300.50,280.42 V284.92 M308.30,280.42 L312.20,278.17 L316.10,280.42 M308.30,280.42 V284.92 M316.10,280.42 L320.00,278.17 L323.90,280.42 M316.10,280.42 V284.92 M323.90,280.42 L327.80,278.17 L331.70,280.42 M323.90,280.42 V284.92 M117.20,287.17 L121.10,284.92 L125.00,287.17 M117.20,287.17 V291.68 M125.00,287.17 L128.90,284.92 L132.80,287.17 M125.00,287.17 V291.68 M132.80,287.17 L136.70,284.92 L140.60,287.17 M132.80,287.17 V291.68 M140.60,287.17 L144.50,284.92 L148.40,287.17 M140.60,287.17 V291.68 M148.40,287.17 L152.30,284.92 L156.20,287.17 M148.40,287.17 V291.68 M156.20,287.17 L160.10,284.92 L164.00,287.17 M156.20,287.17 V291.68 M164.00,287.17 L167.90,284.92 L171.80,287.17 M164.00,287.17 V291.68 M171.80,287.17 L175.70,284.92 L179.60,287.17 M171.80,287.17 V291.68 M179.60,287.17 L183.50,284.92 L187.40,287.17 M179.60,287.17 V291.68 M187.40,287.17 L191.30,284.92 L195.20,287.17 M187.40,287.17 V291.68 M195.20,287.17 L199.10,284.92 L203.00,287.17 M195.20,287.17 V291.68 M203.00,287.17 L206.90,284.92 L210.80,287.17 M203.00,287.17 V291.68 M210.80,287.17 L214.70,284.92 L218.60,287.17 M210.80,287.17 V291.68 M218.60,287.17 L222.50,284.92 L226.40,287.17 M218.60,287.17 V291.68 M226.40,287.17 L230.30,284.92 L234.20,287.17 M226.40,287.17 V291.68 M234.20,287.17 L238.10,284.92 L242.00,287.17 M234.20,287.17 V291.68 M242.00,287.17 L245.90,284.92 L249.80,287.17 M242.00,287.17 V291.68 M249.80,287.17 L253.70,284.92 L257.60,287.17 M249.80,287.17 V291.68 M257.60,287.17 L261.50,284.92 L265.40,287.17 M257.60,287.17 V291.68 M265.40,287.17 L269.30,284.92 L273.20,287.17 M265.40,287.17 V291.68 M273.20,287.17 L277.10,284.92 L281.00,287.17 M273.20,287.17 V291.68 M281.00,287.17 L284.90,284.92 L288.80,287.17 M281.00,287.17 V291.68 M288.80,287.17 L292.70,284.92 L296.60,287.17 M288.80,287.17 V291.68 M296.60,287.17 L300.50,284.92 L304.40,287.17 M296.60,287.17 V291.68 M304.40,287.17 L308.30,284.92 L312.20,287.17 M304.40,287.17 V291.68 M312.20,287.17 L316.10,284.92 L320.00,287.17 M312.20,287.17 V291.68 M320.00,287.17 L323.90,284.92 L327.80,287.17 M320.00,287.17 V291.68 M327.80,287.17 L331.70,284.92 L335.60,287.17 M327.80,287.17 V291.68 M113.30,293.93 L117.20,291.68 L121.10,293.93 M113.30,293.93 V298.43 M121.10,293.93 L125.00,291.68 L128.90,293.93 M121.10,293.93 V298.43 M128.90,293.93 L132.80,291.68 L136.70,293.93 M128.90,293.93 V298.43 M136.70,293.93 L140.60,291.68 L144.50,293.93 M136.70,293.93 V298.43 M144.50,293.93 L148.40,291.68 L152.30,293.93 M144.50,293.93 V298.43 M152.30,293.93 L156.20,291.68 L160.10,293.93 M152.30,293.93 V298.43 M160.10,293.93 L164.00,291.68 L167.90,293.93 M160.10,293.93 V298.43 M167.90,293.93 L171.80,291.68 L175.70,293.93 M167.90,293.93 V298.43 M175.70,293.93 L179.60,291.68 L183.50,293.93 M175.70,293.93 V298.43 M183.50,293.93 L187.40,291.68 L191.30,293.93 M183.50,293.93 V298.43 M191.30,293.93 L195.20,291.68 L199.10,293.93 M191.30,293.93 V298.43 M199.10,293.93 L203.00,291.68 L206.90,293.93 M199.10,293.93 V298.43 M206.90,293.93 L210.80,291.68 L214.70,293.93 M206.90,293.93 V298.43 M214.70,293.93 L218.60,291.68 L222.50,293.93 M214.70,293.93 V298.43 M222.50,293.93 L226.40,291.68 L230.30,293.93 M222.50,293.93 V298.43 M230.30,293.93 L234.20,291.68 L238.10,293.93 M230.30,293.93 V298.43 M238.10,293.93 L242.00,291.68 L245.90,293.93 M238.10,293.93 V298.43 M245.90,293.93 L249.80,291.68 L253.70,293.93 M245.90,293.93 V298.43 M253.70,293.93 L257.60,291.68 L261.50,293.93 M253.70,293.93 V298.43 M261.50,293.93 L265.40,291.68 L269.30,293.93 M261.50,293.93 V298.43 M269.30,293.93 L273.20,291.68 L277.10,293.93 M269.30,293.93 V298.43 M277.10,293.93 L281.00,291.68 L284.90,293.93 M277.10,293.93 V298.43 M284.90,293.93 L288.80,291.68 L292.70,293.93 M284.90,293.93 V298.43 M292.70,293.93 L296.60,291.68 L300.50,293.93 M292.70,293.93 V298.43 M300.50,293.93 L304.40,291.68 L308.30,293.93 M300.50,293.93 V298.43 M308.30,293.93 L312.20,291.68 L316.10,293.93 M308.30,293.93 V298.43 M316.10,293.93 L320.00,291.68 L323.90,293.93 M316.10,293.93 V298.43 M323.90,293.93 L327.80,291.68 L331.70,293.93 M323.90,293.93 V298.43 M117.20,300.68 L121.10,298.43 L125.00,300.68 M117.20,300.68 V305.19 M125.00,300.68 L128.90,298.43 L132.80,300.68 M125.00,300.68 V305.19 M132.80,300.68 L136.70,298.43 L140.60,300.68 M132.80,300.68 V305.19 M140.60,300.68 L144.50,298.43 L148.40,300.68 M140.60,300.68 V305.19 M148.40,300.68 L152.30,298.43 L156.20,300.68 M148.40,300.68 V305.19 M156.20,300.68 L160.10,298.43 L164.00,300.68 M156.20,300.68 V305.19 M164.00,300.68 L167.90,298.43 L171.80,300.68 M164.00,300.68 V305.19 M171.80,300.68 L175.70,298.43 L179.60,300.68 M171.80,300.68 V305.19 M179.60,300.68 L183.50,298.43 L187.40,300.68 M179.60,300.68 V305.19 M187.40,300.68 L191.30,298.43 L195.20,300.68 M187.40,300.68 V305.19 M195.20,300.68 L199.10,298.43 L203.00,300.68 M195.20,300.68 V305.19 M203.00,300.68 L206.90,298.43 L210.80,300.68 M203.00,300.68 V305.19 M210.80,300.68 L214.70,298.43 L218.60,300.68 M210.80,300.68 V305.19 M218.60,300.68 L222.50,298.43 L226.40,300.68 M218.60,300.68 V305.19 M226.40,300.68 L230.30,298.43 L234.20,300.68 M226.40,300.68 V305.19 M234.20,300.68 L238.10,298.43 L242.00,300.68 M234.20,300.68 V305.19 M242.00,300.68 L245.90,298.43 L249.80,300.68 M242.00,300.68 V305.19 M249.80,300.68 L253.70,298.43 L257.60,300.68 M249.80,300.68 V305.19 M257.60,300.68 L261.50,298.43 L265.40,300.68 M257.60,300.68 V305.19 M265.40,300.68 L269.30,298.43 L273.20,300.68 M265.40,300.68 V305.19 M273.20,300.68 L277.10,298.43 L281.00,300.68 M273.20,300.68 V305.19 M281.00,300.68 L284.90,298.43 L288.80,300.68 M281.00,300.68 V305.19 M288.80,300.68 L292.70,298.43 L296.60,300.68 M288.80,300.68 V305.19 M296.60,300.68 L300.50,298.43 L304.40,300.68 M296.60,300.68 V305.19 M304.40,300.68 L308.30,298.43 L312.20,300.68 M304.40,300.68 V305.19 M312.20,300.68 L316.10,298.43 L320.00,300.68 M312.20,300.68 V305.19 M320.00,300.68 L323.90,298.43 L327.80,300.68 M320.00,300.68 V305.19 M327.80,300.68 L331.70,298.43 L335.60,300.68 M327.80,300.68 V305.19 M113.30,307.44 L117.20,305.19 L121.10,307.44 M113.30,307.44 V311.94 M121.10,307.44 L125.00,305.19 L128.90,307.44 M121.10,307.44 V311.94 M128.90,307.44 L132.80,305.19 L136.70,307.44 M128.90,307.44 V311.94 M136.70,307.44 L140.60,305.19 L144.50,307.44 M136.70,307.44 V311.94 M144.50,307.44 L148.40,305.19 L152.30,307.44 M144.50,307.44 V311.94 M152.30,307.44 L156.20,305.19 L160.10,307.44 M152.30,307.44 V311.94 M160.10,307.44 L164.00,305.19 L167.90,307.44 M160.10,307.44 V311.94 M167.90,307.44 L171.80,305.19 L175.70,307.44 M167.90,307.44 V311.94 M175.70,307.44 L179.60,305.19 L183.50,307.44 M175.70,307.44 V311.94 M183.50,307.44 L187.40,305.19 L191.30,307.44 M183.50,307.44 V311.94 M191.30,307.44 L195.20,305.19 L199.10,307.44 M191.30,307.44 V311.94 M199.10,307.44 L203.00,305.19 L206.90,307.44 M199.10,307.44 V311.94 M206.90,307.44 L210.80,305.19 L214.70,307.44 M206.90,307.44 V311.94 M214.70,307.44 L218.60,305.19 L222.50,307.44 M214.70,307.44 V311.94 M222.50,307.44 L226.40,305.19 L230.30,307.44 M222.50,307.44 V311.94 M230.30,307.44 L234.20,305.19 L238.10,307.44 M230.30,307.44 V311.94 M238.10,307.44 L242.00,305.19 L245.90,307.44 M238.10,307.44 V311.94 M245.90,307.44 L249.80,305.19 L253.70,307.44 M245.90,307.44 V311.94 M253.70,307.44 L257.60,305.19 L261.50,307.44 M253.70,307.44 V311.94 M261.50,307.44 L265.40,305.19 L269.30,307.44 M261.50,307.44 V311.94 M269.30,307.44 L273.20,305.19 L277.10,307.44 M269.30,307.44 V311.94 M277.10,307.44 L281.00,305.19 L284.90,307.44 M277.10,307.44 V311.94 M284.90,307.44 L288.80,305.19 L292.70,307.44 M284.90,307.44 V311.94 M292.70,307.44 L296.60,305.19 L300.50,307.44 M292.70,307.44 V311.94 M300.50,307.44 L304.40,305.19 L308.30,307.44 M300.50,307.44 V311.94 M308.30,307.44 L312.20,305.19 L316.10,307.44 M308.30,307.44 V311.94 M316.10,307.44 L320.00,305.19 L323.90,307.44 M316.10,307.44 V311.94 M323.90,307.44 L327.80,305.19 L331.70,307.44 M323.90,307.44 V311.94 M117.20,314.19 L121.10,311.94 L125.00,314.19 M117.20,314.19 V318.70 M125.00,314.19 L128.90,311.94 L132.80,314.19 M125.00,314.19 V318.70 M132.80,314.19 L136.70,311.94 L140.60,314.19 M132.80,314.19 V318.70 M140.60,314.19 L144.50,311.94 L148.40,314.19 M140.60,314.19 V318.70 M148.40,314.19 L152.30,311.94 L156.20,314.19 M148.40,314.19 V318.70 M156.20,314.19 L160.10,311.94 L164.00,314.19 M156.20,314.19 V318.70 M164.00,314.19 L167.90,311.94 L171.80,314.19 M164.00,314.19 V318.70 M171.80,314.19 L175.70,311.94 L179.60,314.19 M171.80,314.19 V318.70 M179.60,314.19 L183.50,311.94 L187.40,314.19 M179.60,314.19 V318.70 M187.40,314.19 L191.30,311.94 L195.20,314.19 M187.40,314.19 V318.70 M195.20,314.19 L199.10,311.94 L203.00,314.19 M195.20,314.19 V318.70 M203.00,314.19 L206.90,311.94 L210.80,314.19 M203.00,314.19 V318.70 M210.80,314.19 L214.70,311.94 L218.60,314.19 M210.80,314.19 V318.70 M218.60,314.19 L222.50,311.94 L226.40,314.19 M218.60,314.19 V318.70 M226.40,314.19 L230.30,311.94 L234.20,314.19 M226.40,314.19 V318.70 M234.20,314.19 L238.10,311.94 L242.00,314.19 M234.20,314.19 V318.70 M242.00,314.19 L245.90,311.94 L249.80,314.19 M242.00,314.19 V318.70 M249.80,314.19 L253.70,311.94 L257.60,314.19 M249.80,314.19 V318.70 M257.60,314.19 L261.50,311.94 L265.40,314.19 M257.60,314.19 V318.70 M265.40,314.19 L269.30,311.94 L273.20,314.19 M265.40,314.19 V318.70 M273.20,314.19 L277.10,311.94 L281.00,314.19 M273.20,314.19 V318.70 M281.00,314.19 L284.90,311.94 L288.80,314.19 M281.00,314.19 V318.70 M288.80,314.19 L292.70,311.94 L296.60,314.19 M288.80,314.19 V318.70 M296.60,314.19 L300.50,311.94 L304.40,314.19 M296.60,314.19 V318.70 M304.40,314.19 L308.30,311.94 L312.20,314.19 M304.40,314.19 V318.70 M312.20,314.19 L316.10,311.94 L320.00,314.19 M312.20,314.19 V318.70 M320.00,314.19 L323.90,311.94 L327.80,314.19 M320.00,314.19 V318.70 M327.80,314.19 L331.70,311.94 L335.60,314.19 M327.80,314.19 V318.70 M113.30,320.95 L117.20,318.70 L121.10,320.95 M113.30,320.95 V325.45 M121.10,320.95 L125.00,318.70 L128.90,320.95 M121.10,320.95 V325.45 M128.90,320.95 L132.80,318.70 L136.70,320.95 M128.90,320.95 V325.45 M136.70,320.95 L140.60,318.70 L144.50,320.95 M136.70,320.95 V325.45 M144.50,320.95 L148.40,318.70 L152.30,320.95 M144.50,320.95 V325.45 M152.30,320.95 L156.20,318.70 L160.10,320.95 M152.30,320.95 V325.45 M160.10,320.95 L164.00,318.70 L167.90,320.95 M160.10,320.95 V325.45 M167.90,320.95 L171.80,318.70 L175.70,320.95 M167.90,320.95 V325.45 M175.70,320.95 L179.60,318.70 L183.50,320.95 M175.70,320.95 V325.45 M183.50,320.95 L187.40,318.70 L191.30,320.95 M183.50,320.95 V325.45 M191.30,320.95 L195.20,318.70 L199.10,320.95 M191.30,320.95 V325.45 M199.10,320.95 L203.00,318.70 L206.90,320.95 M199.10,320.95 V325.45 M206.90,320.95 L210.80,318.70 L214.70,320.95 M206.90,320.95 V325.45 M214.70,320.95 L218.60,318.70 L222.50,320.95 M214.70,320.95 V325.45 M222.50,320.95 L226.40,318.70 L230.30,320.95 M222.50,320.95 V325.45 M230.30,320.95 L234.20,318.70 L238.10,320.95 M230.30,320.95 V325.45 M238.10,320.95 L242.00,318.70 L245.90,320.95 M238.10,320.95 V325.45 M245.90,320.95 L249.80,318.70 L253.70,320.95 M245.90,320.95 V325.45 M253.70,320.95 L257.60,318.70 L261.50,320.95 M253.70,320.95 V325.45 M261.50,320.95 L265.40,318.70 L269.30,320.95 M261.50,320.95 V325.45 M269.30,320.95 L273.20,318.70 L277.10,320.95 M269.30,320.95 V325.45 M277.10,320.95 L281.00,318.70 L284.90,320.95 M277.10,320.95 V325.45 M284.90,320.95 L288.80,318.70 L292.70,320.95 M284.90,320.95 V325.45 M292.70,320.95 L296.60,318.70 L300.50,320.95 M292.70,320.95 V325.45 M300.50,320.95 L304.40,318.70 L308.30,320.95 M300.50,320.95 V325.45 M308.30,320.95 L312.20,318.70 L316.10,320.95 M308.30,320.95 V325.45 M316.10,320.95 L320.00,318.70 L323.90,320.95 M316.10,320.95 V325.45 M323.90,320.95 L327.80,318.70 L331.70,320.95 M323.90,320.95 V325.45 M117.20,327.70 L121.10,325.45 L125.00,327.70 M117.20,327.70 V332.21 M125.00,327.70 L128.90,325.45 L132.80,327.70 M125.00,327.70 V332.21 M132.80,327.70 L136.70,325.45 L140.60,327.70 M132.80,327.70 V332.21 M140.60,327.70 L144.50,325.45 L148.40,327.70 M140.60,327.70 V332.21 M148.40,327.70 L152.30,325.45 L156.20,327.70 M148.40,327.70 V332.21 M156.20,327.70 L160.10,325.45 L164.00,327.70 M156.20,327.70 V332.21 M164.00,327.70 L167.90,325.45 L171.80,327.70 M164.00,327.70 V332.21 M171.80,327.70 L175.70,325.45 L179.60,327.70 M171.80,327.70 V332.21 M179.60,327.70 L183.50,325.45 L187.40,327.70 M179.60,327.70 V332.21 M187.40,327.70 L191.30,325.45 L195.20,327.70 M187.40,327.70 V332.21 M195.20,327.70 L199.10,325.45 L203.00,327.70 M195.20,327.70 V332.21 M203.00,327.70 L206.90,325.45 L210.80,327.70 M203.00,327.70 V332.21 M210.80,327.70 L214.70,325.45 L218.60,327.70 M210.80,327.70 V332.21 M218.60,327.70 L222.50,325.45 L226.40,327.70 M218.60,327.70 V332.21 M226.40,327.70 L230.30,325.45 L234.20,327.70 M226.40,327.70 V332.21 M234.20,327.70 L238.10,325.45 L242.00,327.70 M234.20,327.70 V332.21 M242.00,327.70 L245.90,325.45 L249.80,327.70 M242.00,327.70 V332.21 M249.80,327.70 L253.70,325.45 L257.60,327.70 M249.80,327.70 V332.21 M257.60,327.70 L261.50,325.45 L265.40,327.70 M257.60,327.70 V332.21 M265.40,327.70 L269.30,325.45 L273.20,327.70 M265.40,327.70 V332.21 M273.20,327.70 L277.10,325.45 L281.00,327.70 M273.20,327.70 V332.21 M281.00,327.70 L284.90,325.45 L288.80,327.70 M281.00,327.70 V332.21 M288.80,327.70 L292.70,325.45 L296.60,327.70 M288.80,327.70 V332.21 M296.60,327.70 L300.50,325.45 L304.40,327.70 M296.60,327.70 V332.21 M304.40,327.70 L308.30,325.45 L312.20,327.70 M304.40,327.70 V332.21 M312.20,327.70 L316.10,325.45 L320.00,327.70 M312.20,327.70 V332.21 M320.00,327.70 L323.90,325.45 L327.80,327.70 M320.00,327.70 V332.21 M327.80,327.70 L331.70,325.45 L335.60,327.70 M327.80,327.70 V332.21 M113.30,334.46 L117.20,332.21 L121.10,334.46 M113.30,334.46 V338.96 M121.10,334.46 L125.00,332.21 L128.90,334.46 M121.10,334.46 V338.96 M128.90,334.46 L132.80,332.21 L136.70,334.46 M128.90,334.46 V338.96 M136.70,334.46 L140.60,332.21 L144.50,334.46 M136.70,334.46 V338.96 M144.50,334.46 L148.40,332.21 L152.30,334.46 M144.50,334.46 V338.96 M152.30,334.46 L156.20,332.21 L160.10,334.46 M152.30,334.46 V338.96 M160.10,334.46 L164.00,332.21 L167.90,334.46 M160.10,334.46 V338.96 M167.90,334.46 L171.80,332.21 L175.70,334.46 M167.90,334.46 V338.96 M175.70,334.46 L179.60,332.21 L183.50,334.46 M175.70,334.46 V338.96 M183.50,334.46 L187.40,332.21 L191.30,334.46 M183.50,334.46 V338.96 M191.30,334.46 L195.20,332.21 L199.10,334.46 M191.30,334.46 V338.96 M199.10,334.46 L203.00,332.21 L206.90,334.46 M199.10,334.46 V338.96 M206.90,334.46 L210.80,332.21 L214.70,334.46 M206.90,334.46 V338.96 M214.70,334.46 L218.60,332.21 L222.50,334.46 M214.70,334.46 V338.96 M222.50,334.46 L226.40,332.21 L230.30,334.46 M222.50,334.46 V338.96 M230.30,334.46 L234.20,332.21 L238.10,334.46 M230.30,334.46 V338.96 M238.10,334.46 L242.00,332.21 L245.90,334.46 M238.10,334.46 V338.96 M245.90,334.46 L249.80,332.21 L253.70,334.46 M245.90,334.46 V338.96 M253.70,334.46 L257.60,332.21 L261.50,334.46 M253.70,334.46 V338.96 M261.50,334.46 L265.40,332.21 L269.30,334.46 M261.50,334.46 V338.96 M269.30,334.46 L273.20,332.21 L277.10,334.46 M269.30,334.46 V338.96 M277.10,334.46 L281.00,332.21 L284.90,334.46 M277.10,334.46 V338.96 M284.90,334.46 L288.80,332.21 L292.70,334.46 M284.90,334.46 V338.96 M292.70,334.46 L296.60,332.21 L300.50,334.46 M292.70,334.46 V338.96 M300.50,334.46 L304.40,332.21 L308.30,334.46 M300.50,334.46 V338.96 M308.30,334.46 L312.20,332.21 L316.10,334.46 M308.30,334.46 V338.96 M316.10,334.46 L320.00,332.21 L323.90,334.46 M316.10,334.46 V338.96 M323.90,334.46 L327.80,332.21 L331.70,334.46 M323.90,334.46 V338.96 M117.20,341.21 L121.10,338.96 L125.00,341.21 M117.20,341.21 V345.72 M125.00,341.21 L128.90,338.96 L132.80,341.21 M125.00,341.21 V345.72 M132.80,341.21 L136.70,338.96 L140.60,341.21 M132.80,341.21 V345.72 M140.60,341.21 L144.50,338.96 L148.40,341.21 M140.60,341.21 V345.72 M148.40,341.21 L152.30,338.96 L156.20,341.21 M148.40,341.21 V345.72 M156.20,341.21 L160.10,338.96 L164.00,341.21 M156.20,341.21 V345.72 M164.00,341.21 L167.90,338.96 L171.80,341.21 M164.00,341.21 V345.72 M171.80,341.21 L175.70,338.96 L179.60,341.21 M171.80,341.21 V345.72 M179.60,341.21 L183.50,338.96 L187.40,341.21 M179.60,341.21 V345.72 M187.40,341.21 L191.30,338.96 L195.20,341.21 M187.40,341.21 V345.72 M195.20,341.21 L199.10,338.96 L203.00,341.21 M195.20,341.21 V345.72 M203.00,341.21 L206.90,338.96 L210.80,341.21 M203.00,341.21 V345.72 M210.80,341.21 L214.70,338.96 L218.60,341.21 M210.80,341.21 V345.72 M218.60,341.21 L222.50,338.96 L226.40,341.21 M218.60,341.21 V345.72 M226.40,341.21 L230.30,338.96 L234.20,341.21 M226.40,341.21 V345.72 M234.20,341.21 L238.10,338.96 L242.00,341.21 M234.20,341.21 V345.72 M242.00,341.21 L245.90,338.96 L249.80,341.21 M242.00,341.21 V345.72 M249.80,341.21 L253.70,338.96 L257.60,341.21 M249.80,341.21 V345.72 M257.60,341.21 L261.50,338.96 L265.40,341.21 M257.60,341.21 V345.72 M265.40,341.21 L269.30,338.96 L273.20,341.21 M265.40,341.21 V345.72 M273.20,341.21 L277.10,338.96 L281.00,341.21 M273.20,341.21 V345.72 M281.00,341.21 L284.90,338.96 L288.80,341.21 M281.00,341.21 V345.72 M288.80,341.21 L292.70,338.96 L296.60,341.21 M288.80,341.21 V345.72 M296.60,341.21 L300.50,338.96 L304.40,341.21 M296.60,341.21 V345.72 M304.40,341.21 L308.30,338.96 L312.20,341.21 M304.40,341.21 V345.72 M312.20,341.21 L316.10,338.96 L320.00,341.21 M312.20,341.21 V345.72 M320.00,341.21 L323.90,338.96 L327.80,341.21 M320.00,341.21 V345.72 M327.80,341.21 L331.70,338.96 L335.60,341.21 M327.80,341.21 V345.72 M113.30,347.97 L117.20,345.72 L121.10,347.97 M113.30,347.97 V352.47 M121.10,347.97 L125.00,345.72 L128.90,347.97 M121.10,347.97 V352.47 M128.90,347.97 L132.80,345.72 L136.70,347.97 M128.90,347.97 V352.47 M136.70,347.97 L140.60,345.72 L144.50,347.97 M136.70,347.97 V352.47 M144.50,347.97 L148.40,345.72 L152.30,347.97 M144.50,347.97 V352.47 M152.30,347.97 L156.20,345.72 L160.10,347.97 M152.30,347.97 V352.47 M160.10,347.97 L164.00,345.72 L167.90,347.97 M160.10,347.97 V352.47 M167.90,347.97 L171.80,345.72 L175.70,347.97 M167.90,347.97 V352.47 M175.70,347.97 L179.60,345.72 L183.50,347.97 M175.70,347.97 V352.47 M183.50,347.97 L187.40,345.72 L191.30,347.97 M183.50,347.97 V352.47 M191.30,347.97 L195.20,345.72 L199.10,347.97 M191.30,347.97 V352.47 M199.10,347.97 L203.00,345.72 L206.90,347.97 M199.10,347.97 V352.47 M206.90,347.97 L210.80,345.72 L214.70,347.97 M206.90,347.97 V352.47 M214.70,347.97 L218.60,345.72 L222.50,347.97 M214.70,347.97 V352.47 M222.50,347.97 L226.40,345.72 L230.30,347.97 M222.50,347.97 V352.47 M230.30,347.97 L234.20,345.72 L238.10,347.97 M230.30,347.97 V352.47 M238.10,347.97 L242.00,345.72 L245.90,347.97 M238.10,347.97 V352.47 M245.90,347.97 L249.80,345.72 L253.70,347.97 M245.90,347.97 V352.47 M253.70,347.97 L257.60,345.72 L261.50,347.97 M253.70,347.97 V352.47 M261.50,347.97 L265.40,345.72 L269.30,347.97 M261.50,347.97 V352.47 M269.30,347.97 L273.20,345.72 L277.10,347.97 M269.30,347.97 V352.47 M277.10,347.97 L281.00,345.72 L284.90,347.97 M277.10,347.97 V352.47 M284.90,347.97 L288.80,345.72 L292.70,347.97 M284.90,347.97 V352.47 M292.70,347.97 L296.60,345.72 L300.50,347.97 M292.70,347.97 V352.47 M300.50,347.97 L304.40,345.72 L308.30,347.97 M300.50,347.97 V352.47 M308.30,347.97 L312.20,345.72 L316.10,347.97 M308.30,347.97 V352.47 M316.10,347.97 L320.00,345.72 L323.90,347.97 M316.10,347.97 V352.47 M323.90,347.97 L327.80,345.72 L331.70,347.97 M323.90,347.97 V352.47 M117.20,354.72 L121.10,352.47 L125.00,354.72 M117.20,354.72 V359.23 M125.00,354.72 L128.90,352.47 L132.80,354.72 M125.00,354.72 V359.23 M132.80,354.72 L136.70,352.47 L140.60,354.72 M132.80,354.72 V359.23 M140.60,354.72 L144.50,352.47 L148.40,354.72 M140.60,354.72 V359.23 M148.40,354.72 L152.30,352.47 L156.20,354.72 M148.40,354.72 V359.23 M156.20,354.72 L160.10,352.47 L164.00,354.72 M156.20,354.72 V359.23 M164.00,354.72 L167.90,352.47 L171.80,354.72 M164.00,354.72 V359.23 M171.80,354.72 L175.70,352.47 L179.60,354.72 M171.80,354.72 V359.23 M179.60,354.72 L183.50,352.47 L187.40,354.72 M179.60,354.72 V359.23 M187.40,354.72 L191.30,352.47 L195.20,354.72 M187.40,354.72 V359.23 M195.20,354.72 L199.10,352.47 L203.00,354.72 M195.20,354.72 V359.23 M203.00,354.72 L206.90,352.47 L210.80,354.72 M203.00,354.72 V359.23 M210.80,354.72 L214.70,352.47 L218.60,354.72 M210.80,354.72 V359.23 M218.60,354.72 L222.50,352.47 L226.40,354.72 M218.60,354.72 V359.23 M226.40,354.72 L230.30,352.47 L234.20,354.72 M226.40,354.72 V359.23 M234.20,354.72 L238.10,352.47 L242.00,354.72 M234.20,354.72 V359.23 M242.00,354.72 L245.90,352.47 L249.80,354.72 M242.00,354.72 V359.23 M249.80,354.72 L253.70,352.47 L257.60,354.72 M249.80,354.72 V359.23 M257.60,354.72 L261.50,352.47 L265.40,354.72 M257.60,354.72 V359.23 M265.40,354.72 L269.30,352.47 L273.20,354.72 M265.40,354.72 V359.23 M273.20,354.72 L277.10,352.47 L281.00,354.72 M273.20,354.72 V359.23 M281.00,354.72 L284.90,352.47 L288.80,354.72 M281.00,354.72 V359.23 M288.80,354.72 L292.70,352.47 L296.60,354.72 M288.80,354.72 V359.23 M296.60,354.72 L300.50,352.47 L304.40,354.72 M296.60,354.72 V359.23 M304.40,354.72 L308.30,352.47 L312.20,354.72 M304.40,354.72 V359.23 M312.20,354.72 L316.10,352.47 L320.00,354.72 M312.20,354.72 V359.23 M320.00,354.72 L323.90,352.47 L327.80,354.72 M320.00,354.72 V359.23 M327.80,354.72 L331.70,352.47 L335.60,354.72 M327.80,354.72 V359.23 M113.30,361.48 L117.20,359.23 L121.10,361.48 M113.30,361.48 V365.98 M121.10,361.48 L125.00,359.23 L128.90,361.48 M121.10,361.48 V365.98 M128.90,361.48 L132.80,359.23 L136.70,361.48 M128.90,361.48 V365.98 M136.70,361.48 L140.60,359.23 L144.50,361.48 M136.70,361.48 V365.98 M144.50,361.48 L148.40,359.23 L152.30,361.48 M144.50,361.48 V365.98 M152.30,361.48 L156.20,359.23 L160.10,361.48 M152.30,361.48 V365.98 M160.10,361.48 L164.00,359.23 L167.90,361.48 M160.10,361.48 V365.98 M167.90,361.48 L171.80,359.23 L175.70,361.48 M167.90,361.48 V365.98 M175.70,361.48 L179.60,359.23 L183.50,361.48 M175.70,361.48 V365.98 M183.50,361.48 L187.40,359.23 L191.30,361.48 M183.50,361.48 V365.98 M191.30,361.48 L195.20,359.23 L199.10,361.48 M191.30,361.48 V365.98 M199.10,361.48 L203.00,359.23 L206.90,361.48 M199.10,361.48 V365.98 M206.90,361.48 L210.80,359.23 L214.70,361.48 M206.90,361.48 V365.98 M214.70,361.48 L218.60,359.23 L222.50,361.48 M214.70,361.48 V365.98 M222.50,361.48 L226.40,359.23 L230.30,361.48 M222.50,361.48 V365.98 M230.30,361.48 L234.20,359.23 L238.10,361.48 M230.30,361.48 V365.98 M238.10,361.48 L242.00,359.23 L245.90,361.48 M238.10,361.48 V365.98 M245.90,361.48 L249.80,359.23 L253.70,361.48 M245.90,361.48 V365.98 M253.70,361.48 L257.60,359.23 L261.50,361.48 M253.70,361.48 V365.98 M261.50,361.48 L265.40,359.23 L269.30,361.48 M261.50,361.48 V365.98 M269.30,361.48 L273.20,359.23 L277.10,361.48 M269.30,361.48 V365.98 M277.10,361.48 L281.00,359.23 L284.90,361.48 M277.10,361.48 V365.98 M284.90,361.48 L288.80,359.23 L292.70,361.48 M284.90,361.48 V365.98 M292.70,361.48 L296.60,359.23 L300.50,361.48 M292.70,361.48 V365.98 M300.50,361.48 L304.40,359.23 L308.30,361.48 M300.50,361.48 V365.98 M308.30,361.48 L312.20,359.23 L316.10,361.48 M308.30,361.48 V365.98 M316.10,361.48 L320.00,359.23 L323.90,361.48 M316.10,361.48 V365.98 M323.90,361.48 L327.80,359.23 L331.70,361.48 M323.90,361.48 V365.98 M117.20,368.23 L121.10,365.98 L125.00,368.23 M117.20,368.23 V372.74 M125.00,368.23 L128.90,365.98 L132.80,368.23 M125.00,368.23 V372.74 M132.80,368.23 L136.70,365.98 L140.60,368.23 M132.80,368.23 V372.74 M140.60,368.23 L144.50,365.98 L148.40,368.23 M140.60,368.23 V372.74 M148.40,368.23 L152.30,365.98 L156.20,368.23 M148.40,368.23 V372.74 M156.20,368.23 L160.10,365.98 L164.00,368.23 M156.20,368.23 V372.74 M164.00,368.23 L167.90,365.98 L171.80,368.23 M164.00,368.23 V372.74 M171.80,368.23 L175.70,365.98 L179.60,368.23 M171.80,368.23 V372.74 M179.60,368.23 L183.50,365.98 L187.40,368.23 M179.60,368.23 V372.74 M187.40,368.23 L191.30,365.98 L195.20,368.23 M187.40,368.23 V372.74 M195.20,368.23 L199.10,365.98 L203.00,368.23 M195.20,368.23 V372.74 M203.00,368.23 L206.90,365.98 L210.80,368.23 M203.00,368.23 V372.74 M210.80,368.23 L214.70,365.98 L218.60,368.23 M210.80,368.23 V372.74 M218.60,368.23 L222.50,365.98 L226.40,368.23 M218.60,368.23 V372.74 M226.40,368.23 L230.30,365.98 L234.20,368.23 M226.40,368.23 V372.74 M234.20,368.23 L238.10,365.98 L242.00,368.23 M234.20,368.23 V372.74 M242.00,368.23 L245.90,365.98 L249.80,368.23 M242.00,368.23 V372.74 M249.80,368.23 L253.70,365.98 L257.60,368.23 M249.80,368.23 V372.74 M257.60,368.23 L261.50,365.98 L265.40,368.23 M257.60,368.23 V372.74 M265.40,368.23 L269.30,365.98 L273.20,368.23 M265.40,368.23 V372.74 M273.20,368.23 L277.10,365.98 L281.00,368.23 M273.20,368.23 V372.74 M281.00,368.23 L284.90,365.98 L288.80,368.23 M281.00,368.23 V372.74 M288.80,368.23 L292.70,365.98 L296.60,368.23 M288.80,368.23 V372.74 M296.60,368.23 L300.50,365.98 L304.40,368.23 M296.60,368.23 V372.74 M304.40,368.23 L308.30,365.98 L312.20,368.23 M304.40,368.23 V372.74 M312.20,368.23 L316.10,365.98 L320.00,368.23 M312.20,368.23 V372.74 M320.00,368.23 L323.90,365.98 L327.80,368.23 M320.00,368.23 V372.74 M327.80,368.23 L331.70,365.98 L335.60,368.23 M327.80,368.23 V372.74 M113.30,374.99 L117.20,372.74 L121.10,374.99 M113.30,374.99 V379.49 M121.10,374.99 L125.00,372.74 L128.90,374.99 M121.10,374.99 V379.49 M128.90,374.99 L132.80,372.74 L136.70,374.99 M128.90,374.99 V379.49 M136.70,374.99 L140.60,372.74 L144.50,374.99 M136.70,374.99 V379.49 M144.50,374.99 L148.40,372.74 L152.30,374.99 M144.50,374.99 V379.49 M152.30,374.99 L156.20,372.74 L160.10,374.99 M152.30,374.99 V379.49 M160.10,374.99 L164.00,372.74 L167.90,374.99 M160.10,374.99 V379.49 M167.90,374.99 L171.80,372.74 L175.70,374.99 M167.90,374.99 V379.49 M175.70,374.99 L179.60,372.74 L183.50,374.99 M175.70,374.99 V379.49 M183.50,374.99 L187.40,372.74 L191.30,374.99 M183.50,374.99 V379.49 M191.30,374.99 L195.20,372.74 L199.10,374.99 M191.30,374.99 V379.49 M199.10,374.99 L203.00,372.74 L206.90,374.99 M199.10,374.99 V379.49 M206.90,374.99 L210.80,372.74 L214.70,374.99 M206.90,374.99 V379.49 M214.70,374.99 L218.60,372.74 L222.50,374.99 M214.70,374.99 V379.49 M222.50,374.99 L226.40,372.74 L230.30,374.99 M222.50,374.99 V379.49 M230.30,374.99 L234.20,372.74 L238.10,374.99 M230.30,374.99 V379.49 M238.10,374.99 L242.00,372.74 L245.90,374.99 M238.10,374.99 V379.49 M245.90,374.99 L249.80,372.74 L253.70,374.99 M245.90,374.99 V379.49 M253.70,374.99 L257.60,372.74 L261.50,374.99 M253.70,374.99 V379.49 M261.50,374.99 L265.40,372.74 L269.30,374.99 M261.50,374.99 V379.49 M269.30,374.99 L273.20,372.74 L277.10,374.99 M269.30,374.99 V379.49 M277.10,374.99 L281.00,372.74 L284.90,374.99 M277.10,374.99 V379.49 M284.90,374.99 L288.80,372.74 L292.70,374.99 M284.90,374.99 V379.49 M292.70,374.99 L296.60,372.74 L300.50,374.99 M292.70,374.99 V379.49 M300.50,374.99 L304.40,372.74 L308.30,374.99 M300.50,374.99 V379.49 M308.30,374.99 L312.20,372.74 L316.10,374.99 M308.30,374.99 V379.49 M316.10,374.99 L320.00,372.74 L323.90,374.99 M316.10,374.99 V379.49 M323.90,374.99 L327.80,372.74 L331.70,374.99 M323.90,374.99 V379.49 M117.20,381.74 L121.10,379.49 L125.00,381.74 M117.20,381.74 V386.25 M125.00,381.74 L128.90,379.49 L132.80,381.74 M125.00,381.74 V386.25 M132.80,381.74 L136.70,379.49 L140.60,381.74 M132.80,381.74 V386.25 M140.60,381.74 L144.50,379.49 L148.40,381.74 M140.60,381.74 V386.25 M148.40,381.74 L152.30,379.49 L156.20,381.74 M148.40,381.74 V386.25 M156.20,381.74 L160.10,379.49 L164.00,381.74 M156.20,381.74 V386.25 M164.00,381.74 L167.90,379.49 L171.80,381.74 M164.00,381.74 V386.25 M171.80,381.74 L175.70,379.49 L179.60,381.74 M171.80,381.74 V386.25 M179.60,381.74 L183.50,379.49 L187.40,381.74 M179.60,381.74 V386.25 M187.40,381.74 L191.30,379.49 L195.20,381.74 M187.40,381.74 V386.25 M195.20,381.74 L199.10,379.49 L203.00,381.74 M195.20,381.74 V386.25 M203.00,381.74 L206.90,379.49 L210.80,381.74 M203.00,381.74 V386.25 M210.80,381.74 L214.70,379.49 L218.60,381.74 M210.80,381.74 V386.25 M218.60,381.74 L222.50,379.49 L226.40,381.74 M218.60,381.74 V386.25 M226.40,381.74 L230.30,379.49 L234.20,381.74 M226.40,381.74 V386.25 M234.20,381.74 L238.10,379.49 L242.00,381.74 M234.20,381.74 V386.25 M242.00,381.74 L245.90,379.49 L249.80,381.74 M242.00,381.74 V386.25 M249.80,381.74 L253.70,379.49 L257.60,381.74 M249.80,381.74 V386.25 M257.60,381.74 L261.50,379.49 L265.40,381.74 M257.60,381.74 V386.25 M265.40,381.74 L269.30,379.49 L273.20,381.74 M265.40,381.74 V386.25 M273.20,381.74 L277.10,379.49 L281.00,381.74 M273.20,381.74 V386.25 M281.00,381.74 L284.90,379.49 L288.80,381.74 M281.00,381.74 V386.25 M288.80,381.74 L292.70,379.49 L296.60,381.74 M288.80,381.74 V386.25 M296.60,381.74 L300.50,379.49 L304.40,381.74 M296.60,381.74 V386.25 M304.40,381.74 L308.30,379.49 L312.20,381.74 M304.40,381.74 V386.25 M312.20,381.74 L316.10,379.49 L320.00,381.74 M312.20,381.74 V386.25 M320.00,381.74 L323.90,379.49 L327.80,381.74 M320.00,381.74 V386.25 M327.80,381.74 L331.70,379.49 L335.60,381.74 M327.80,381.74 V386.25" clip-path="url(#lensclip)" stroke="#626262" stroke-width="1.1"/>
<rect x="125" y="179.6" width="198.8" height="198.8" rx="35" stroke="#444" stroke-width="1.6"/>
<path d="M209.6,228.6 H239.7 C247.5,228.6 253.2,234.3 253.2,242.1 V272.6 L242,280.7 L253.2,288.8 V321.7 C253.2,329.5 247.5,335.2 239.7,335.2 H209.6 C201.8,335.2 196.1,329.5 196.1,321.7 V288.8 L207.5,280.7 L196.1,272.6 V242.1 C196.1,234.3 201.8,228.6 209.6,228.6 Z" fill="#fff" stroke="#6a6a6a" stroke-width="1.2"/>
<path d="M213.6,236.4 H236.4 L246,246 V267.5 Q246,269.5 244,271.5 L239,276.5 Q236.4,279 236.4,280.5 Q236.4,282 239,284.5 L244,289.5 Q246,291.5 246,293.5 V319 L236.4,327.8 H213.6 L203.6,319 V293.5 Q203.6,291.5 205.6,289.5 L210.6,284.5 Q213.2,282 213.2,280.5 Q213.2,279 210.6,276.5 L205.6,271.5 Q203.6,269.5 203.6,267.5 V246 Z" stroke-width="1.2"/>
<circle cx="225" cy="257.40" r="18.80" stroke-width="1.2"/>
<circle cx="225" cy="257.40" r="15.00" stroke-width="1.2"/>
<circle cx="225" cy="257.40" r="9.90" stroke-width="1.2"/>
<circle cx="225" cy="257.40" r="4.90" stroke-width="1.2"/>
<circle cx="225" cy="306.30" r="18.80" stroke-width="1.2"/>
<circle cx="225" cy="306.30" r="15.00" stroke-width="1.2"/>
<circle cx="225" cy="306.30" r="9.90" stroke-width="1.2"/>
<circle cx="225" cy="306.30" r="4.90" stroke-width="1.2"/>
</g>
<line x1="109.10" y1="40.00" x2="109.10" y2="208.00" stroke="#5b90c0" stroke-width="1.00"/>
<line x1="339.80" y1="40.00" x2="339.80" y2="210.00" stroke="#5b90c0" stroke-width="1.00"/>
<line x1="110.00" y1="49.50" x2="339.00" y2="49.50" stroke="#5b90c0" stroke-width="1.00"/>
<path d="M109.90,49.50 L117.90,46.90 L117.90,52.10 Z" fill="#14549a" stroke="none"/>
<path d="M339.30,49.50 L331.30,46.90 L331.30,52.10 Z" fill="#14549a" stroke="none"/>
<text x="0" y="0" transform="translate(224.50,45.60) scale(0.965,1)" text-anchor="middle" font-size="15.6" font-weight="bold" fill="#14549a" font-family="Liberation Sans, sans-serif">65 mm</text>
<g fill="none" stroke="#6f6f6f" stroke-width="1.20">
<rect x="439.6" y="163.6" width="231.8" height="231.4" rx="54" fill="#fff"/>
<rect x="447.6" y="171.6" width="215.8" height="216" rx="46"/>
<path d="M451.4,124 H659 V292 A26,26 0 0 1 607,292 C607,281 601,275.4 594,275.4 H516 C509,275.4 503.5,281 503.5,292 A26.05,26.05 0 0 1 451.4,292 Z" fill="#fff"/>
<path d="M451.4,131 H659"/>
<path d="M477.4,131 V146.4 Q477.4,148.4 479.4,148.4 H496.6 Q498.6,148.4 498.6,146.4 V131"/>
<path d="M611.4,131 V147 Q611.4,149 613.4,149 H630.6 Q632.6,149 632.6,147 V131"/>
<path d="M553,131 V150.4 Q555,153.4 557,150.4 V131"/>
<path d="M502,183.6 H547.6 L555,189.6 L561.5,183.6 H605 L618,196.6 V243.6 L606,255.8 H561.5 L555,249.8 L547.6,255.8 H502 L490.6,244.4 V194 Z"/>
<path d="M535,183.6 V205 C535,211 531,213 528,213 C525.5,213 524,215 524,218 V255.8"/>
<path d="M574,183.6 V205 C574,211 578,213 582,213 C586,213 588,215 588,218 V255.8"/>
<path d="M545.6,183.6 V255.8 M564,183.6 V255.8"/>
<path d="M521.5,275.4 V335.2 Q521.5,338.8 525,338.8 H585 Q588.5,338.8 588.5,335.2 V275.4"/>
<path d="M530,275.4 V293 Q530,298 535,298 H575 Q580,298 580,293 V275.4"/>
<path d="M540.5,275.4 A14.5,14.5 0 0 0 569.5,275.4 M545.8,275.4 A9.2,9.2 0 0 0 564.2,275.4"/>
<path d="M659,70 H629 A79.2,79.2 0 0 0 554,123.8 H573.4 A61.2,61.2 0 0 1 629,88 H659 Z" fill="#fff" stroke="none"/>
<path d="M659,70 H629 A79.2,79.2 0 0 0 554,123.8"/>
<path d="M659,88 H629 A61.2,61.2 0 0 0 573.4,123.8"/>
</g>
<path d="M671.30,73.80 H677.25 A1.95,1.95 0 0 1 677.25,77.70 H671.30" fill="#fff" stroke="#6f6f6f" stroke-width="1.1"/>
<path d="M659.60,72.00 H669.80 Q671.30,72.00 671.30,73.50 V78.00 Q671.30,79.50 669.80,79.50 H659.60 Z" fill="#fff" stroke="#6f6f6f" stroke-width="1.15"/>
<path d="M671.30,81.30 H677.25 A1.95,1.95 0 0 1 677.25,85.20 H671.30" fill="#fff" stroke="#6f6f6f" stroke-width="1.1"/>
<path d="M659.60,79.50 H669.80 Q671.30,79.50 671.30,81.00 V85.50 Q671.30,87.00 669.80,87.00 H659.60 Z" fill="#fff" stroke="#6f6f6f" stroke-width="1.15"/>
<path d="M658.10,69.70 Q659.60,69.70 659.60,71.20 V87.80 Q659.60,89.30 658.10,89.30" fill="none" stroke="#6f6f6f" stroke-width="1.2"/>
<circle cx="477.20" cy="293.00" r="11.0" fill="#fff" stroke="#6f6f6f" stroke-width="1.2"/>
<circle cx="477.20" cy="293.00" r="9.1" fill="none" stroke="#6f6f6f" stroke-width="1.1"/>
<path d="M476.15,287.25 A1.05,1.05 0 0 1 478.25,287.25 L479.10,290.30 Q478.70,291.50 479.90,291.10 L482.95,291.95 A1.05,1.05 0 0 1 482.95,294.05 L479.90,294.90 Q478.70,294.50 479.10,295.70 L478.25,298.75 A1.05,1.05 0 0 1 476.15,298.75 L475.30,295.70 Q475.70,294.50 474.50,294.90 L471.45,294.05 A1.05,1.05 0 0 1 471.45,291.95 L474.50,291.10 Q475.70,291.50 475.30,290.30 L476.15,287.25 Z" fill="none" stroke="#6f6f6f" stroke-width="1.1"/>
<circle cx="633.10" cy="293.00" r="11.0" fill="#fff" stroke="#6f6f6f" stroke-width="1.2"/>
<circle cx="633.10" cy="293.00" r="9.1" fill="none" stroke="#6f6f6f" stroke-width="1.1"/>
<path d="M632.05,287.25 A1.05,1.05 0 0 1 634.15,287.25 L635.00,290.30 Q634.60,291.50 635.80,291.10 L638.85,291.95 A1.05,1.05 0 0 1 638.85,294.05 L635.80,294.90 Q634.60,294.50 635.00,295.70 L634.15,298.75 A1.05,1.05 0 0 1 632.05,298.75 L631.20,295.70 Q631.60,294.50 630.40,294.90 L627.35,294.05 A1.05,1.05 0 0 1 627.35,291.95 L630.40,291.10 Q631.60,291.50 631.20,290.30 L632.05,287.25 Z" fill="none" stroke="#6f6f6f" stroke-width="1.1"/>
<line x1="451.40" y1="40.00" x2="451.40" y2="212.00" stroke="#5b90c0" stroke-width="1.00"/>
<line x1="659.00" y1="40.00" x2="659.00" y2="212.00" stroke="#5b90c0" stroke-width="1.00"/>
<line x1="452.00" y1="49.50" x2="658.50" y2="49.50" stroke="#5b90c0" stroke-width="1.00"/>
<path d="M451.90,49.50 L459.90,46.90 L459.90,52.10 Z" fill="#14549a" stroke="none"/>
<path d="M658.50,49.50 L650.50,46.90 L650.50,52.10 Z" fill="#14549a" stroke="none"/>
<text x="0" y="0" transform="translate(554.90,45.60) scale(0.965,1)" text-anchor="middle" font-size="15.6" font-weight="bold" fill="#14549a" font-family="Liberation Sans, sans-serif">57</text>
<line x1="659.00" y1="124.00" x2="710.00" y2="124.00" stroke="#5b90c0" stroke-width="1.00"/>
<line x1="616.00" y1="317.40" x2="710.00" y2="317.40" stroke="#5b90c0" stroke-width="1.00"/>
<line x1="701.60" y1="125.00" x2="701.60" y2="316.50" stroke="#5b90c0" stroke-width="1.00"/>
<path d="M701.60,124.50 L699.00,132.50 L704.20,132.50 Z" fill="#14549a" stroke="none"/>
<path d="M701.60,316.90 L699.00,308.90 L704.20,308.90 Z" fill="#14549a" stroke="none"/>
<text x="0" y="0" transform="translate(698.20,221.30) rotate(-90) scale(0.965,1)" text-anchor="middle" font-size="15.6" font-weight="bold" fill="#14549a" font-family="Liberation Sans, sans-serif">53</text>
<line x1="423.75" y1="239.40" x2="477.00" y2="292.30" stroke="#3f7bb5" stroke-width="1.15"/>
<circle cx="477.0" cy="292.3" r="2.9" fill="#14549a"/>
<ellipse cx="411.90" cy="231.30" rx="4.25" ry="4.70" fill="none" stroke="#14549a" stroke-width="2.05"/>
<line x1="407.20" y1="236.60" x2="416.60" y2="225.90" stroke="#14549a" stroke-width="1.7"/>
<text x="0" y="0" transform="translate(418.20,236.90) scale(0.97,1)" font-size="14.8" font-weight="bold" fill="#14549a" font-family="Liberation Sans, sans-serif">5</text>
<line x1="477.00" y1="292.40" x2="477.00" y2="439.00" stroke="#5b90c0" stroke-width="1.00"/>
<line x1="633.00" y1="286.60" x2="633.00" y2="439.00" stroke="#5b90c0" stroke-width="1.00"/>
<line x1="477.50" y1="430.50" x2="632.30" y2="430.50" stroke="#5b90c0" stroke-width="1.00"/>
<path d="M477.40,430.50 L485.40,427.90 L485.40,433.10 Z" fill="#14549a" stroke="none"/>
<path d="M632.40,430.50 L624.40,427.90 L624.40,433.10 Z" fill="#14549a" stroke="none"/>
<text x="0" y="0" transform="translate(555.50,426.80) scale(0.965,1)" text-anchor="middle" font-size="15.6" font-weight="bold" fill="#14549a" font-family="Liberation Sans, sans-serif">40</text>
<g fill="none" stroke="#6f6f6f" stroke-width="1.20">
<path d="M217.25,541 V526.4 A85,85 0 0 1 302.25,441.4 H332 V459 H305 A68,68 0 0 0 248.6,489 L237,541 Z" fill="#fff" stroke="none"/>
<path d="M217.25,541 V526.4 A85,85 0 0 1 302.25,441.4 H332"/>
<path d="M248.6,489 A68,68 0 0 1 305,459 H332"/>
<path d="M237.1,680.6 V489 H349.6 V495.6 H242.5 V680.6 Z" fill="#fff"/>
<path d="M243,518 L265,495.6"/>
<path d="M242.8,495.8 L246,495.8 L243,502"/>
<path d="M242.5,638 Q251,649.5 242.5,661"/>
<path d="M179.5,539 H229 Q237.1,539 237.1,547 V752.5 Q237.1,760.5 229,760.5 H179.5" fill="#fff"/>
<path d="M168.75,533.5 L127,537.5 C117,539 111,546 111,554 V746 C111,755 117,762 126,763 L168.75,766.5" fill="#fff"/>
<path d="M168.75,533 H176.5 Q179.5,533 179.5,536 V764 Q179.5,767 176.5,767 H168.75 Z" fill="#fff"/>
<path d="M116.25,549.05 H164 M116.25,553.66 H164 M116.25,558.27 H164 M116.25,562.88 H164 M116.25,567.49 H164 M116.25,572.10 H164 M116.25,576.71 H164 M116.25,581.32 H164 M116.25,585.93 H164 M116.25,590.54 H164 M116.25,595.15 H164 M116.25,599.76 H164 M116.25,604.37 H164 M116.25,608.98 H164 M116.25,613.59 H164 M116.25,618.20 H164 M116.25,622.81 H164 M116.25,627.42 H164 M116.25,632.03 H164 M116.25,636.64 H164 M116.25,641.25 H164 M116.25,645.86 H164 M116.25,650.47 H164 M116.25,655.09 H164 M116.25,659.70 H164 M116.25,664.31 H164 M116.25,668.92 H164 M116.25,673.53 H164 M116.25,678.14 H164 M116.25,682.75 H164 M116.25,687.36 H164 M116.25,691.97 H164 M116.25,696.58 H164 M116.25,701.19 H164 M116.25,705.80 H164 M116.25,710.41 H164 M116.25,715.02 H164 M116.25,719.63 H164 M116.25,724.24 H164 M116.25,728.85 H164 M116.25,733.46 H164 M116.25,738.07 H164 M116.25,742.68 H164 M116.25,747.29 H164 M116.25,751.90 H164 M140.6,539.6 H164 M128.5,544.1 H164 M129,756.3 H164 M141,760.9 H164" stroke="#8a8a8a" stroke-width="1.45"/>
</g>
<path d="M342.60,444.45 H348.55 A1.95,1.95 0 0 1 348.55,448.35 H342.60" fill="#fff" stroke="#6f6f6f" stroke-width="1.1"/>
<path d="M332.00,442.60 H341.10 Q342.60,442.60 342.60,444.10 V448.70 Q342.60,450.20 341.10,450.20 H332.00 Z" fill="#fff" stroke="#6f6f6f" stroke-width="1.15"/>
<path d="M342.60,452.05 H348.55 A1.95,1.95 0 0 1 348.55,455.95 H342.60" fill="#fff" stroke="#6f6f6f" stroke-width="1.1"/>
<path d="M332.00,450.20 H341.10 Q342.60,450.20 342.60,451.70 V456.30 Q342.60,457.80 341.10,457.80 H332.00 Z" fill="#fff" stroke="#6f6f6f" stroke-width="1.15"/>
<path d="M330.50,440.30 Q332.00,440.30 332.00,441.80 V458.60 Q332.00,460.10 330.50,460.10" fill="none" stroke="#6f6f6f" stroke-width="1.2"/>
<line x1="111.00" y1="460.60" x2="111.00" y2="553.75" stroke="#5b90c0" stroke-width="1.00"/>
<line x1="237.20" y1="461.00" x2="237.20" y2="554.00" stroke="#5b90c0" stroke-width="1.00"/>
<line x1="349.80" y1="461.00" x2="349.80" y2="496.00" stroke="#5b90c0" stroke-width="1.00"/>
<line x1="111.50" y1="469.40" x2="236.70" y2="469.40" stroke="#5b90c0" stroke-width="1.00"/>
<path d="M111.40,469.40 L119.40,466.80 L119.40,472.00 Z" fill="#14549a" stroke="none"/>
<path d="M236.80,469.40 L228.80,466.80 L228.80,472.00 Z" fill="#14549a" stroke="none"/>
<line x1="237.70" y1="469.40" x2="349.30" y2="469.40" stroke="#5b90c0" stroke-width="1.00"/>
<path d="M237.60,469.40 L245.60,466.80 L245.60,472.00 Z" fill="#14549a" stroke="none"/>
<path d="M349.40,469.40 L341.40,466.80 L341.40,472.00 Z" fill="#14549a" stroke="none"/>
<text x="0" y="0" transform="translate(177.40,465.10) scale(0.965,1)" text-anchor="middle" font-size="15.6" font-weight="bold" fill="#14549a" font-family="Liberation Sans, sans-serif">28</text>
<text x="0" y="0" transform="translate(293.80,465.10) scale(0.965,1)" text-anchor="middle" font-size="15.6" font-weight="bold" fill="#14549a" font-family="Liberation Sans, sans-serif">22</text>
<g fill="none" stroke="#6f6f6f" stroke-width="1.20">
<path d="M451.5,624.75 L458,560 C459,550 465,544.4 474,544.4 H634 C644,544.4 651.5,550 652.6,560 L658.75,624.75 Z" fill="#fff"/>
<path d="M486.5,544.4 L490,571 M507,544.4 L504.4,571 M501.4,592.75 L494.4,620.75"/>
<circle cx="496.5" cy="577" r="7.9"/>
<path d="M602.4,544.5 L604.5,571 M622.5,544.5 L620.6,571 M608,591.75 L615.9,620.6"/>
<circle cx="612.4" cy="577" r="7.9"/>
<path d="M451.5,624.75 H658.75"/>
<rect x="466.4" y="624.75" width="21.85" height="5.65"/>
<rect x="622" y="624.75" width="21.9" height="5.65"/>
<path d="M443.6,688 V638.4 Q443.6,630.4 451.6,630.4 H657.6 Q665.6,630.4 665.6,638.4 V688"/>
<path d="M438,698.6 V690 Q438,688 440,688 H670 Q672,688 672,690 V698.6 Z"/>
<path d="M438.6,698.6 L443,744 C444,751 450,756 458,756 H652 C660,756 667,751 668,744 L671.6,698.6"/>
<path d="M453.00,703 V751 M457.64,703 V751 M462.27,703 V751 M466.91,703 V751 M471.55,703 V751 M476.18,703 V751 M480.82,703 V751 M485.45,703 V751 M490.09,703 V751 M494.73,703 V751 M499.36,703 V751 M504.00,703 V751 M508.64,703 V751 M513.27,703 V751 M517.91,703 V751 M522.55,703 V751 M527.18,703 V751 M531.82,703 V751 M536.45,703 V751 M541.09,703 V751 M545.73,703 V751 M550.36,703 V751 M555.00,703 V751 M559.64,703 V751 M564.27,703 V751 M568.91,703 V751 M573.55,703 V751 M578.18,703 V751 M582.82,703 V751 M587.45,703 V751 M592.09,703 V751 M596.73,703 V751 M601.36,703 V751 M606.00,703 V751 M610.64,703 V751 M615.27,703 V751 M619.91,703 V751 M624.55,703 V751 M629.18,703 V751 M633.82,703 V751 M638.45,703 V751 M643.09,703 V751 M647.73,703 V751 M652.36,703 V751 M657.00,703 V751 M444,703 V726 M448.6,703 V738 M661.6,703 V738 M666,703 V726" stroke="#8a8a8a" stroke-width="1.45"/>
</g>
<line x1="634.00" y1="544.50" x2="710.40" y2="544.50" stroke="#5b90c0" stroke-width="1.00"/>
<line x1="632.00" y1="756.00" x2="710.00" y2="756.00" stroke="#5b90c0" stroke-width="1.00"/>
<line x1="701.60" y1="545.00" x2="701.60" y2="755.50" stroke="#5b90c0" stroke-width="1.00"/>
<path d="M701.60,545.00 L699.00,553.00 L704.20,553.00 Z" fill="#14549a" stroke="none"/>
<path d="M701.60,755.50 L699.00,747.50 L704.20,747.50 Z" fill="#14549a" stroke="none"/>
<text x="0" y="0" transform="translate(698.60,650.30) rotate(-90) scale(0.965,1)" text-anchor="middle" font-size="15.6" font-weight="bold" fill="#14549a" font-family="Liberation Sans, sans-serif">50</text>
<line x1="442.75" y1="523.60" x2="496.50" y2="577.00" stroke="#3f7bb5" stroke-width="1.15"/>
<circle cx="496.5" cy="577" r="2.7" fill="#14549a"/>
<ellipse cx="431.20" cy="515.80" rx="4.15" ry="4.75" fill="none" stroke="#14549a" stroke-width="2.05"/>
<line x1="426.70" y1="521.30" x2="435.70" y2="510.20" stroke="#14549a" stroke-width="1.7"/>
<text x="0" y="0" transform="translate(437.80,521.30) scale(0.97,1)" font-size="14.8" font-weight="bold" fill="#14549a" font-family="Liberation Sans, sans-serif">5</text>
</svg>
</body></html>
